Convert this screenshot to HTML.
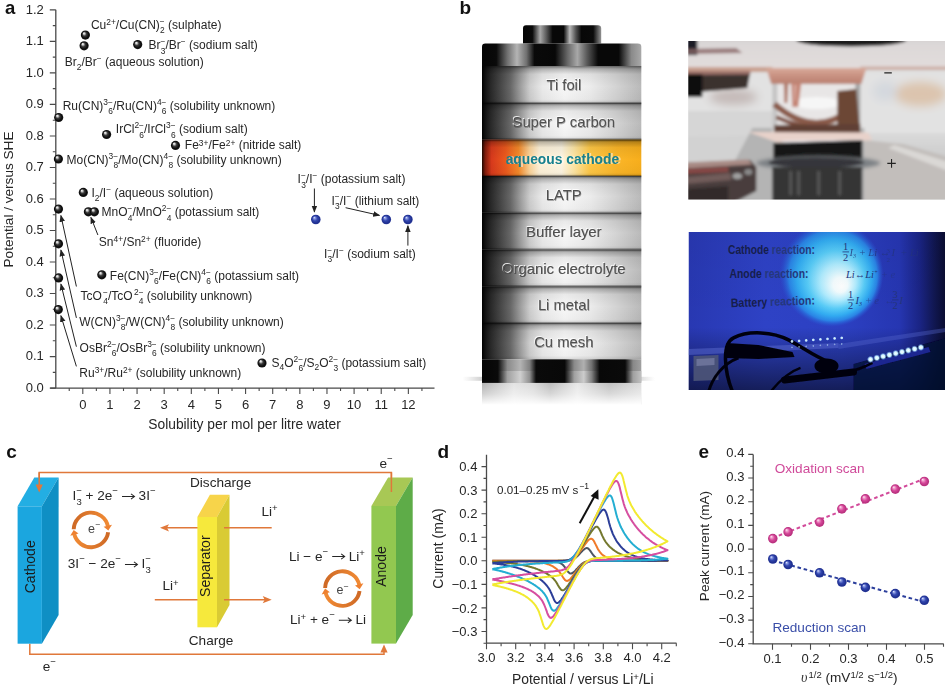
<!DOCTYPE html>
<html><head><meta charset="utf-8"><title>Figure</title>
<style>html,body{margin:0;padding:0;background:#fff;overflow:hidden;width:946px;height:688px;}svg{display:block;filter:blur(0.3px);}text{white-space:pre;}</style></head>
<body><svg width="946" height="688" viewBox="0 0 946 688" font-family='"Liberation Sans", sans-serif'><defs>
<clipPath id="cpP1"><rect x="688.3" y="41.1" width="256.7" height="158.4"/></clipPath>
<clipPath id="cpP2"><rect x="688.5" y="231.9" width="256.5" height="158.2"/></clipPath>
<filter id="fBl1" x="-10%" y="-10%" width="120%" height="120%"><feGaussianBlur stdDeviation="1.6"/></filter>
<filter id="fBl3" x="-30%" y="-30%" width="160%" height="160%"><feGaussianBlur stdDeviation="4"/></filter>
<filter id="fBl05"><feGaussianBlur stdDeviation="0.6"/></filter>
<linearGradient id="gP1bg" x1="0" y1="0" x2="0" y2="1">
 <stop offset="0" stop-color="#d4d2d2"/>
 <stop offset="0.05" stop-color="#d8d4d3"/>
 <stop offset="0.22" stop-color="#dcd4d2"/>
 <stop offset="0.3" stop-color="#d2c8c6"/>
 <stop offset="0.4" stop-color="#dadada"/>
 <stop offset="0.6" stop-color="#dcdcdc"/>
 <stop offset="0.68" stop-color="#c8c8c8"/>
 <stop offset="1" stop-color="#a4a4a4"/>
</linearGradient>
<linearGradient id="gPlate" x1="0" y1="0" x2="0" y2="1">
 <stop offset="0" stop-color="#d2d0d0"/>
 <stop offset="0.2" stop-color="#dcd8d8"/>
 <stop offset="1" stop-color="#e2dcdb"/>
</linearGradient>
<linearGradient id="gCu" x1="0" y1="0" x2="0" y2="1">
 <stop offset="0" stop-color="#d8aa9a"/>
 <stop offset="0.5" stop-color="#c89080"/>
 <stop offset="1" stop-color="#b88070"/>
</linearGradient>
<linearGradient id="gStageR" x1="0" y1="0" x2="0" y2="1">
 <stop offset="0" stop-color="#dadada"/>
 <stop offset="0.3" stop-color="#cecece"/>
 <stop offset="1" stop-color="#bcbcbc"/>
</linearGradient>
<radialGradient id="gP2tr" cx="257" cy="0" r="120" gradientUnits="objectBoundingBox">
 <stop offset="0" stop-color="#000" stop-opacity="0"/>
</radialGradient>
<linearGradient id="gStage" x1="0" y1="0" x2="1" y2="0">
 <stop offset="0" stop-color="#8a8a8a"/>
 <stop offset="0.4" stop-color="#a0a0a0"/>
 <stop offset="0.75" stop-color="#b4b4b4"/>
 <stop offset="1" stop-color="#c4c4c4"/>
</linearGradient>
<radialGradient id="gGlow" cx="50%" cy="50%" r="50%" fx="60%" fy="62%">
 <stop offset="0" stop-color="#ffffff"/>
 <stop offset="0.14" stop-color="#f4fdff"/>
 <stop offset="0.34" stop-color="#b0ecff"/>
 <stop offset="0.55" stop-color="#58ccf8"/>
 <stop offset="0.72" stop-color="#32acf2"/>
 <stop offset="0.85" stop-color="#2a84e6"/>
 <stop offset="0.93" stop-color="#2a62d8" stop-opacity="0.6"/>
 <stop offset="1" stop-color="#2a50d0" stop-opacity="0"/>
</radialGradient>
<linearGradient id="gP2bg" x1="0" y1="0" x2="1" y2="0">
 <stop offset="0" stop-color="#2838b2"/>
 <stop offset="0.3" stop-color="#2e42c6"/>
 <stop offset="0.6" stop-color="#2c40c2"/>
 <stop offset="0.82" stop-color="#2636b2"/>
 <stop offset="0.9" stop-color="#1a2484"/>
 <stop offset="0.96" stop-color="#10164e"/>
 <stop offset="1" stop-color="#0a0c30"/>
</linearGradient>
<linearGradient id="gP2v" x1="0" y1="0" x2="0" y2="1">
 <stop offset="0" stop-color="#000" stop-opacity="0.04"/>
 <stop offset="0.6" stop-color="#000" stop-opacity="0"/>
 <stop offset="0.75" stop-color="#000" stop-opacity="0.2"/>
 <stop offset="1" stop-color="#000" stop-opacity="0.55"/>
</linearGradient>
<radialGradient id="gLed" cx="50%" cy="50%" r="50%">
 <stop offset="0" stop-color="#ffffff"/>
 <stop offset="0.5" stop-color="#c8f0ff"/>
 <stop offset="1" stop-color="#6aa0ff" stop-opacity="0"/>
</radialGradient>
</defs>
<g clip-path="url(#cpP1)">
<rect x="688.3" y="41.1" width="257" height="159" fill="#dedede"/>
<g filter="url(#fBl1)">
<rect x="685.3" y="38.1" width="263" height="31" fill="url(#gPlate)"/>
<ellipse cx="851.3" cy="40.1" rx="55" ry="6.5" fill="#1e1e1e"/>
<path d="M685.3,38.1 L697.3,38.1 L697.3,55.1 L685.3,55.1 z" fill="#1a1e28" />
<path d="M685.3,49.1 L736.3,48.1 L742.3,53.1 L685.3,54.1 z" fill="#8a6666" opacity="0.8"/>
<path d="M685.3,67.1 L772.3,67.1 L772.3,72.6 L685.3,72.6 z" fill="#c9a090" />
<path d="M860.3,66.6 L948.3,66.6 L948.3,70.1 L860.3,70.1 z" fill="#cdb0a8" />
<rect x="685.3" y="72.1" width="263" height="66" fill="#e2e2e2"/>
<g filter="url(#fBl3)">
<ellipse cx="920.3" cy="94.1" rx="26" ry="12" fill="#dcc4ae"/>
<ellipse cx="885.3" cy="91.1" rx="12" ry="10" fill="#d4d8de"/>
<ellipse cx="733.3" cy="97.1" rx="24" ry="8" fill="#c4bab8"/>
</g>
<rect x="685.3" y="111.1" width="90" height="30" fill="#d6d6d6"/>
<path d="M860.3,133.1 L948.3,133.1 L948.3,203.1 L860.3,203.1 z" fill="url(#gStageR)" />
<path d="M864.3,140.1 L903.3,144.1 L948.3,157.1 L948.3,201.1 L864.3,201.1 z" fill="#c2bebb" />
<path d="M894.3,145.1 L948.3,162.1 L948.3,171.1 L888.3,148.1 z" fill="#e4e2e0" opacity="0.7"/>
<path d="M685.3,137.1 L778.3,135.1 L778.3,203.1 L685.3,203.1 z" fill="#d2d2d2" />
<path d="M728.3,173.1 L752.3,128.1 L864.3,128.1 L864.3,203.1 L728.3,203.1 z" fill="#b4b4b4" />
<path d="M685.3,72.1 L750.3,72.1 L747.3,88.1 L685.3,93.1 z" fill="#3a302e" />
<path d="M685.3,71.1 L750.3,71.1 L750.3,74.6 L685.3,75.1 z" fill="#9a7068" />
<path d="M685.3,74.1 L702.3,74.1 L702.3,97.1 L685.3,97.1 z" fill="#0c0c0c" />
<path d="M772.3,83.1 L860.3,83.1 L860.3,133.1 L772.3,133.1 z" fill="#e8e6e6" />
<path d="M772.3,83.1 L777.3,83.1 L777.3,131.1 L772.3,131.1 z" fill="#c4c4c4" />
<path d="M855.3,83.1 L860.3,83.1 L860.3,131.1 L855.3,131.1 z" fill="#a4a4a4" />
<ellipse cx="816.3" cy="103.1" rx="25" ry="6" fill="#f6f6f6"/>
<path d="M766.3,68.1 L866.3,68.1 L861.3,84.1 L771.3,84.1 z" fill="url(#gCu)" />
<path d="M791.3,83.1 L801.3,83.1 L798.3,107.1 L792.3,107.1 z" fill="#c48474" />
<path d="M794.3,85.1 L796.3,85.1 L795.3,101.1 L794.3,101.1 z" fill="#e8c8c0" opacity="0.7"/>
<path d="M783.8,83.1 L788.3,83.1 L787.3,103.1 L784.3,103.1 z" fill="#b07a6a" />
<path d="M774.3,104.1 Q813.3,138.1 848.3,111.1" fill="none" stroke="#8a5a48" stroke-width="6"/>
<path d="M776.3,117.1 Q813.3,134.1 851.3,123.1" fill="none" stroke="#7a4c3c" stroke-width="4"/>
<path d="M837.3,91.1 L856.3,89.1 L860.3,134.1 L837.3,136.1 z" fill="#6c4636" />
<path d="M774.3,125.1 L860.3,124.1 L860.3,137.1 L774.3,138.1 z" fill="#604034" />
<path d="M748.3,132.1 L868.3,132.6 L872.3,140.1 L813.3,145.1 L776.3,142.1 z" fill="#e8d2ca" />
<path d="M780.3,141.1 L864.3,139.6 L813.3,151.1 z" fill="#f2f2f8" />
<path d="M773.3,143.1 L862.3,140.1 L862.3,161.1 L773.3,161.1 z" fill="#151515" />
<ellipse cx="818.3" cy="163.1" rx="62" ry="7" fill="#7c8084" filter="url(#fBl1)"/>
<ellipse cx="816.3" cy="162.6" rx="48" ry="5" fill="#34363a"/>
<path d="M772.3,167.1 L862.3,167.1 L862.3,203.1 L772.3,203.1 z" fill="#363636" />
<path d="M789.3,171.1 L791.8,171.1 L791.8,195.1 L789.3,195.1 z" fill="#7c7c7c" opacity="0.55"/>
<path d="M797.3,171.1 L799.8,171.1 L799.8,195.1 L797.3,195.1 z" fill="#7c7c7c" opacity="0.55"/>
<path d="M817.3,171.1 L819.8,171.1 L819.8,195.1 L817.3,195.1 z" fill="#7c7c7c" opacity="0.55"/>
<path d="M838.3,171.1 L840.8,171.1 L840.8,195.1 L838.3,195.1 z" fill="#7c7c7c" opacity="0.55"/>
<path d="M685.3,163.1 L750.3,160.1 L756.3,167.1 L756.3,191.1 L733.3,203.1 L685.3,203.1 z" fill="#4a3e3c" />
<path d="M685.3,162.6 L748.3,159.6 L752.3,164.6 L685.3,168.6 z" fill="#a88a84" />
<path d="M685.3,169.1 L728.3,167.1 L728.3,172.1 L685.3,174.1 z" fill="#a04a48" opacity="0.7"/>
<path d="M685.3,177.1 L730.3,173.1 L731.3,180.1 L685.3,184.1 z" fill="#7a6462" opacity="0.8"/>
<path d="M685.3,189.1 L728.3,186.1 L728.3,201.1 L685.3,201.1 z" fill="#2c2424" opacity="0.8"/>
<ellipse cx="737.3" cy="176.1" rx="5" ry="3" fill="#a0a0a0"/>
<ellipse cx="748.3" cy="172.1" rx="4" ry="3" fill="#8a8a8a"/>
</g>
<path d="M884.3,72.9 H891.8" stroke="#222" stroke-width="1.3"/>
<path d="M887.3,163.4 H895.8 M891.55,159.1 V167.7" stroke="#222" stroke-width="1.1"/>
</g>
<g clip-path="url(#cpP2)">
<rect x="688.5" y="231.9" width="257" height="159" fill="url(#gP2bg)"/>
<ellipse cx="831.5" cy="273.9" rx="52" ry="53" fill="url(#gGlow)"/>
<rect x="688.5" y="231.9" width="257" height="159" fill="url(#gP2v)"/>
<g font-weight="bold" font-size="12.4">
<text x="728.0" y="253.9" fill="#161e4c" textLength="87" lengthAdjust="spacingAndGlyphs">Cathode <tspan fill="#25377c">reaction:</tspan></text>
<text x="729.5" y="278.4" fill="#161e4c" textLength="79" lengthAdjust="spacingAndGlyphs">Anode <tspan fill="#25377c">reaction:</tspan></text>
<text x="730.8" y="305.9" fill="#161e4c" textLength="84" lengthAdjust="spacingAndGlyphs" transform="rotate(-2 772.5 301.9)">Battery <tspan fill="#25377c">reaction:</tspan></text>
</g>
<g font-family="Liberation Serif" font-style="italic" fill="#24347a" font-size="10.5">
<text x="843.0" y="249.9" font-style="normal">1</text><path d="M842.5,251.9 H849.0" stroke="#24347a" stroke-width="0.8"/><text x="843.0" y="260.9" font-style="normal">2</text>
<text x="849.5" y="255.9" opacity="0.8">I<tspan font-size="6" dy="2">3</tspan><tspan dy="-2"> + Li ↔ </tspan></text>
<text x="886.5" y="252.9" font-style="normal" font-size="7" opacity="0.6">3</text><text x="886.5" y="261.9" font-style="normal" font-size="7" opacity="0.6">2</text>
<text x="891.5" y="255.9" opacity="0.7">I  + Li</text>
<text x="846.0" y="277.9">Li↔Li<tspan font-size="6" dy="-4">+</tspan><tspan dy="4" opacity="0.5"> + e</tspan></text>
<text x="848.0" y="297.9" font-style="normal">1</text><path d="M847.5,299.9 H854.0" stroke="#24347a" stroke-width="0.8"/><text x="848.0" y="308.9" font-style="normal">2</text>
<text x="855.5" y="303.9">I<tspan font-size="6" dy="2">3</tspan><tspan dy="-2" opacity="0.6"> + e  ↔ </tspan></text>
<text x="892.5" y="297.9" font-style="normal">3</text><path d="M892.0,299.9 H898.5" stroke="#24347a" stroke-width="0.8"/><text x="892.5" y="308.9" font-style="normal">2</text><text x="899.5" y="303.9">I</text>
</g>
<g filter="url(#fBl05)">
<path d="M688.5,348.9 L838.5,342.9 L838.5,347.9 L688.5,354.9 z" fill="#5a6ad0" opacity="0.5"/>
<path d="M838.5,343.9 L945.5,327.9 L945.5,331.9 L838.5,348.9 z" fill="#5a6ad0" opacity="0.35"/>
<path d="M853.5,363.9 L945.5,337.9 L945.5,391.9 L853.5,391.9 z" fill="#080a30" opacity="0.75"/>
<path d="M693.5,355.9 L718.5,354.9 L718.5,379.9 L693.5,380.9 z" fill="#4c5478" opacity="0.9"/>
<path d="M696.5,358.9 L714.5,357.9 L714.5,364.9 L696.5,365.9 z" fill="#7a82a8" opacity="0.7"/>
<path d="M864.5,363.9 L928.5,346.9 L930.5,351.9 L866.5,368.9 z" fill="#1a2890" />
<path d="M732.5,391.9 C724.5,371.9 721.5,343.9 733.5,337.9 C748.5,329.9 773.5,331.9 788.5,339.9 C803.5,347.9 813.5,355.9 828.5,361.9" fill="none" stroke="#04040c" stroke-width="3.5"/>
<path d="M726.5,342.9 L758.5,344.9 L792.5,351.9 L794.5,356.9 L758.5,358.9 L726.5,357.9 z" fill="#04040c" />
<path d="M784.5,379.9 L853.5,371.9" stroke="#04040c" stroke-width="7" stroke-linecap="round"/>
<ellipse cx="826.5" cy="365.9" rx="12" ry="7.5" fill="#04040c"/>
<path d="M848.5,371.9 C858.5,369.9 864.5,366.9 872.5,362.9" fill="none" stroke="#04040c" stroke-width="2.5"/>
<path d="M708.5,391.9 C712.5,377.9 722.5,363.9 738.5,357.9" fill="none" stroke="#04040c" stroke-width="3"/>
<path d="M770.5,391.9 C778.5,381.9 788.5,371.9 800.5,367.9" fill="none" stroke="#04040c" stroke-width="2.5"/>
</g>
<circle cx="870.5" cy="359.4" r="3.6" fill="url(#gLed)"/>
<circle cx="876.8" cy="357.9" r="3.6" fill="url(#gLed)"/>
<circle cx="883.1" cy="356.4" r="3.6" fill="url(#gLed)"/>
<circle cx="889.4" cy="354.9" r="3.6" fill="url(#gLed)"/>
<circle cx="895.7" cy="353.4" r="3.6" fill="url(#gLed)"/>
<circle cx="902.0" cy="351.9" r="3.6" fill="url(#gLed)"/>
<circle cx="908.3" cy="350.4" r="3.6" fill="url(#gLed)"/>
<circle cx="914.6" cy="348.9" r="3.6" fill="url(#gLed)"/>
<circle cx="920.9" cy="347.4" r="3.6" fill="url(#gLed)"/>
<circle cx="792.0" cy="341.4" r="1.9" fill="url(#gLed)" opacity="0.9"/>
<circle cx="792.0" cy="347.4" r="1.3" fill="url(#gLed)" opacity="0.45"/>
<circle cx="799.1" cy="340.9" r="1.9" fill="url(#gLed)" opacity="0.9"/>
<circle cx="799.1" cy="346.9" r="1.3" fill="url(#gLed)" opacity="0.45"/>
<circle cx="806.2" cy="340.4" r="1.9" fill="url(#gLed)" opacity="0.9"/>
<circle cx="806.2" cy="346.4" r="1.3" fill="url(#gLed)" opacity="0.45"/>
<circle cx="813.3" cy="339.9" r="1.9" fill="url(#gLed)" opacity="0.9"/>
<circle cx="813.3" cy="345.9" r="1.3" fill="url(#gLed)" opacity="0.45"/>
<circle cx="820.4" cy="339.4" r="1.9" fill="url(#gLed)" opacity="0.9"/>
<circle cx="820.4" cy="345.4" r="1.3" fill="url(#gLed)" opacity="0.45"/>
<circle cx="827.5" cy="338.9" r="1.9" fill="url(#gLed)" opacity="0.9"/>
<circle cx="827.5" cy="344.9" r="1.3" fill="url(#gLed)" opacity="0.45"/>
<circle cx="834.6" cy="338.4" r="1.9" fill="url(#gLed)" opacity="0.9"/>
<circle cx="834.6" cy="344.4" r="1.3" fill="url(#gLed)" opacity="0.45"/>
<circle cx="841.7" cy="337.9" r="1.9" fill="url(#gLed)" opacity="0.9"/>
<circle cx="841.7" cy="343.9" r="1.3" fill="url(#gLed)" opacity="0.45"/>
</g>
<defs>
<linearGradient id="gLay" x1="482" y1="0" x2="641" y2="0" gradientUnits="userSpaceOnUse">
 <stop offset="0" stop-color="#000"/>
 <stop offset="0.02" stop-color="#121212"/>
 <stop offset="0.05" stop-color="#262626"/>
 <stop offset="0.11" stop-color="#444"/>
 <stop offset="0.18" stop-color="#686868"/>
 <stop offset="0.24" stop-color="#9c9c9c"/>
 <stop offset="0.30" stop-color="#cdcdcd"/>
 <stop offset="0.38" stop-color="#eaeaea"/>
 <stop offset="0.52" stop-color="#f8f8f8"/>
 <stop offset="0.68" stop-color="#ececec"/>
 <stop offset="0.84" stop-color="#d4d4d4"/>
 <stop offset="1" stop-color="#bababa"/>
</linearGradient>
<linearGradient id="gOr" x1="482" y1="0" x2="641" y2="0" gradientUnits="userSpaceOnUse">
 <stop offset="0" stop-color="#200800"/>
 <stop offset="0.02" stop-color="#801c0c"/>
 <stop offset="0.06" stop-color="#d83a1c"/>
 <stop offset="0.15" stop-color="#ec5a1e"/>
 <stop offset="0.23" stop-color="#f48a2a"/>
 <stop offset="0.30" stop-color="#fcd49a"/>
 <stop offset="0.36" stop-color="#fff2d8"/>
 <stop offset="0.50" stop-color="#fff6e2"/>
 <stop offset="0.58" stop-color="#ffe6a4"/>
 <stop offset="0.68" stop-color="#ffc846"/>
 <stop offset="0.85" stop-color="#fbb628"/>
 <stop offset="1" stop-color="#f7ae1c"/>
</linearGradient>
<linearGradient id="gLayV" x1="0" y1="0" x2="0" y2="1">
 <stop offset="0" stop-color="#000" stop-opacity="0.55"/>
 <stop offset="0.08" stop-color="#000" stop-opacity="0.25"/>
 <stop offset="0.22" stop-color="#000" stop-opacity="0.06"/>
 <stop offset="0.55" stop-color="#000" stop-opacity="0"/>
 <stop offset="0.9" stop-color="#000" stop-opacity="0.03"/>
 <stop offset="1" stop-color="#000" stop-opacity="0.12"/>
</linearGradient>
<linearGradient id="gBand" x1="482" y1="0" x2="641" y2="0" gradientUnits="userSpaceOnUse">
 <stop offset="0" stop-color="#050505"/>
 <stop offset="0.09" stop-color="#0a0a0a"/>
 <stop offset="0.16" stop-color="#707070"/>
 <stop offset="0.22" stop-color="#b4b4b4"/>
 <stop offset="0.28" stop-color="#707070"/>
 <stop offset="0.33" stop-color="#0a0a0a"/>
 <stop offset="0.46" stop-color="#080808"/>
 <stop offset="0.54" stop-color="#6a6a6a"/>
 <stop offset="0.60" stop-color="#a8a8a8"/>
 <stop offset="0.66" stop-color="#5a5a5a"/>
 <stop offset="0.73" stop-color="#080808"/>
 <stop offset="0.86" stop-color="#080808"/>
 <stop offset="0.94" stop-color="#8a8a8a"/>
 <stop offset="1" stop-color="#a8a8a8"/>
</linearGradient>
<linearGradient id="gCap" x1="523" y1="0" x2="601" y2="0" gradientUnits="userSpaceOnUse">
 <stop offset="0" stop-color="#050505"/>
 <stop offset="0.12" stop-color="#0a0a0a"/>
 <stop offset="0.22" stop-color="#a8a8a8"/>
 <stop offset="0.30" stop-color="#5a5a5a"/>
 <stop offset="0.38" stop-color="#080808"/>
 <stop offset="0.52" stop-color="#080808"/>
 <stop offset="0.60" stop-color="#b8b8b8"/>
 <stop offset="0.68" stop-color="#505050"/>
 <stop offset="0.75" stop-color="#080808"/>
 <stop offset="0.90" stop-color="#0a0a0a"/>
 <stop offset="1" stop-color="#909090"/>
</linearGradient>
<linearGradient id="gBot" x1="482" y1="0" x2="641" y2="0" gradientUnits="userSpaceOnUse">
 <stop offset="0" stop-color="#050505"/>
 <stop offset="0.10" stop-color="#0a0a0a"/>
 <stop offset="0.16" stop-color="#8a8a8a"/>
 <stop offset="0.24" stop-color="#b4b4b4"/>
 <stop offset="0.30" stop-color="#808080"/>
 <stop offset="0.34" stop-color="#0a0a0a"/>
 <stop offset="0.52" stop-color="#080808"/>
 <stop offset="0.58" stop-color="#8a8a8a"/>
 <stop offset="0.64" stop-color="#b0b0b0"/>
 <stop offset="0.69" stop-color="#707070"/>
 <stop offset="0.74" stop-color="#080808"/>
 <stop offset="0.90" stop-color="#0a0a0a"/>
 <stop offset="0.95" stop-color="#888"/>
 <stop offset="1" stop-color="#a0a0a0"/>
</linearGradient>
<linearGradient id="gBot2" x1="482" y1="0" x2="641" y2="0" gradientUnits="userSpaceOnUse">
 <stop offset="0" stop-color="#050505"/>
 <stop offset="0.10" stop-color="#0a0a0a"/>
 <stop offset="0.16" stop-color="#a0a0a0"/>
 <stop offset="0.24" stop-color="#d0d0d0"/>
 <stop offset="0.30" stop-color="#909090"/>
 <stop offset="0.34" stop-color="#0a0a0a"/>
 <stop offset="0.52" stop-color="#080808"/>
 <stop offset="0.58" stop-color="#a0a0a0"/>
 <stop offset="0.64" stop-color="#cccccc"/>
 <stop offset="0.69" stop-color="#808080"/>
 <stop offset="0.74" stop-color="#080808"/>
 <stop offset="0.90" stop-color="#0a0a0a"/>
 <stop offset="0.95" stop-color="#a0a0a0"/>
 <stop offset="1" stop-color="#c0c0c0"/>
</linearGradient>
<linearGradient id="gRefl" x1="0" y1="0" x2="0" y2="1">
 <stop offset="0" stop-color="#fff" stop-opacity="0.1"/>
 <stop offset="0.5" stop-color="#fff" stop-opacity="0.45"/>
 <stop offset="1" stop-color="#fff" stop-opacity="1"/>
</linearGradient>
<linearGradient id="gReflH" x1="482" y1="0" x2="641" y2="0" gradientUnits="userSpaceOnUse">
 <stop offset="0" stop-color="#a8a8a8"/>
 <stop offset="0.1" stop-color="#c4c4c4"/>
 <stop offset="0.2" stop-color="#e0e0e0"/>
 <stop offset="0.32" stop-color="#d4d4d4"/>
 <stop offset="0.43" stop-color="#b4b4b4"/>
 <stop offset="0.6" stop-color="#e4e4e4"/>
 <stop offset="0.8" stop-color="#b8b8b8"/>
 <stop offset="1" stop-color="#d8d8d8"/>
</linearGradient>
<linearGradient id="gShad" x1="0" y1="0" x2="1" y2="0">
 <stop offset="0" stop-color="#bbb" stop-opacity="0"/>
 <stop offset="0.15" stop-color="#aaa" stop-opacity="0.9"/>
 <stop offset="0.85" stop-color="#aaa" stop-opacity="0.9"/>
 <stop offset="1" stop-color="#bbb" stop-opacity="0"/>
</linearGradient>
<filter id="fEmb" x="-5%" y="-20%" width="110%" height="140%">
 <feGaussianBlur stdDeviation="0.35"/>
</filter>
</defs>
<text x="459.50" y="14.20" font-size="19" fill="#111" text-anchor="start" font-weight="bold" >b</text>
<rect x="462.8" y="376.8" width="192" height="4" fill="url(#gShad)" filter="url(#fEmb)"/>
<rect x="482.0" y="382.5" width="159.29999999999995" height="22" fill="url(#gReflH)"/>
<rect x="482.0" y="382.5" width="159.29999999999995" height="22.5" fill="url(#gRefl)"/>
<path d="M523,43.6 V28.4 Q523,25.3 526,25.3 H598 Q601.2,25.3 601.2,28.4 V43.6 z" fill="url(#gCap)"/>
<path d="M482.0,66 V46.8 Q482.0,43.5 485.3,43.5 H638.0 Q641.3,43.5 641.3,46.8 V66 z" fill="url(#gBand)"/>
<rect x="482.0" y="66.0" width="159.29999999999995" height="37.0" fill="url(#gLay)"/>
<rect x="482.0" y="66.0" width="159.29999999999995" height="37.0" fill="url(#gLayV)"/>
<rect x="482.0" y="103.0" width="159.29999999999995" height="36.5" fill="url(#gLay)"/>
<rect x="482.0" y="103.0" width="159.29999999999995" height="36.5" fill="url(#gLayV)"/>
<rect x="482.0" y="139.5" width="159.29999999999995" height="36.5" fill="url(#gOr)"/>
<rect x="482.0" y="139.5" width="159.29999999999995" height="36.5" fill="url(#gLayV)"/>
<rect x="482.0" y="176.0" width="159.29999999999995" height="36.80000000000001" fill="url(#gLay)"/>
<rect x="482.0" y="176.0" width="159.29999999999995" height="36.80000000000001" fill="url(#gLayV)"/>
<rect x="482.0" y="212.8" width="159.29999999999995" height="36.69999999999999" fill="url(#gLay)"/>
<rect x="482.0" y="212.8" width="159.29999999999995" height="36.69999999999999" fill="url(#gLayV)"/>
<rect x="482.0" y="249.5" width="159.29999999999995" height="36.80000000000001" fill="url(#gLay)"/>
<rect x="482.0" y="249.5" width="159.29999999999995" height="36.80000000000001" fill="url(#gLayV)"/>
<rect x="482.0" y="286.3" width="159.29999999999995" height="36.69999999999999" fill="url(#gLay)"/>
<rect x="482.0" y="286.3" width="159.29999999999995" height="36.69999999999999" fill="url(#gLayV)"/>
<rect x="482.0" y="323.0" width="159.29999999999995" height="36.30000000000001" fill="url(#gLay)"/>
<rect x="482.0" y="323.0" width="159.29999999999995" height="36.30000000000001" fill="url(#gLayV)"/>
<rect x="482.0" y="101.9" width="159.29999999999995" height="2.2" fill="#000" opacity="0.33" filter="url(#fEmb)"/>
<rect x="482.0" y="138.4" width="159.29999999999995" height="2.2" fill="#000" opacity="0.33" filter="url(#fEmb)"/>
<rect x="482.0" y="174.9" width="159.29999999999995" height="2.2" fill="#000" opacity="0.33" filter="url(#fEmb)"/>
<rect x="482.0" y="211.70000000000002" width="159.29999999999995" height="2.2" fill="#000" opacity="0.33" filter="url(#fEmb)"/>
<rect x="482.0" y="248.4" width="159.29999999999995" height="2.2" fill="#000" opacity="0.33" filter="url(#fEmb)"/>
<rect x="482.0" y="285.2" width="159.29999999999995" height="2.2" fill="#000" opacity="0.33" filter="url(#fEmb)"/>
<rect x="482.0" y="321.9" width="159.29999999999995" height="2.2" fill="#000" opacity="0.33" filter="url(#fEmb)"/>
<rect x="482.0" y="359.3" width="159.29999999999995" height="23.4" fill="url(#gBot)"/>
<rect x="482.0" y="371" width="159.29999999999995" height="11.7" fill="url(#gBot2)"/>
<text x="563.0999999999999" y="89.3" font-size="14.8" text-anchor="middle" fill="#fff" opacity="0.85">Ti foil</text>
<text x="564.3" y="90.6" font-size="14.8" text-anchor="middle" fill="#222" opacity="0.35">Ti foil</text>
<text x="563.8" y="90.0" font-size="14.8" text-anchor="middle" fill="#505050">Ti foil</text>
<text x="563.0999999999999" y="126.3" font-size="14.8" text-anchor="middle" fill="#fff" opacity="0.85">Super P carbon</text>
<text x="564.3" y="127.6" font-size="14.8" text-anchor="middle" fill="#222" opacity="0.35">Super P carbon</text>
<text x="563.8" y="127.0" font-size="14.8" text-anchor="middle" fill="#505050">Super P carbon</text>
<text x="564.5" y="164.3" font-size="13.8" font-weight="bold" text-anchor="middle" fill="#fff" opacity="0.5">aqueous cathode</text>
<text x="562.4" y="163.5" font-size="13.8" font-weight="bold" text-anchor="middle" fill="#17808f">aqueous cathode</text>
<text x="563.0999999999999" y="199.3" font-size="14.8" text-anchor="middle" fill="#fff" opacity="0.85">LATP</text>
<text x="564.3" y="200.6" font-size="14.8" text-anchor="middle" fill="#222" opacity="0.35">LATP</text>
<text x="563.8" y="200.0" font-size="14.8" text-anchor="middle" fill="#505050">LATP</text>
<text x="563.0999999999999" y="236.10000000000002" font-size="14.8" text-anchor="middle" fill="#fff" opacity="0.85">Buffer layer</text>
<text x="564.3" y="237.4" font-size="14.8" text-anchor="middle" fill="#222" opacity="0.35">Buffer layer</text>
<text x="563.8" y="236.8" font-size="14.8" text-anchor="middle" fill="#505050">Buffer layer</text>
<text x="563.0999999999999" y="272.8" font-size="14.8" text-anchor="middle" fill="#fff" opacity="0.85">Organic electrolyte</text>
<text x="564.3" y="274.1" font-size="14.8" text-anchor="middle" fill="#222" opacity="0.35">Organic electrolyte</text>
<text x="563.8" y="273.5" font-size="14.8" text-anchor="middle" fill="#505050">Organic electrolyte</text>
<text x="563.0999999999999" y="309.6" font-size="14.8" text-anchor="middle" fill="#fff" opacity="0.85">Li metal</text>
<text x="564.3" y="310.90000000000003" font-size="14.8" text-anchor="middle" fill="#222" opacity="0.35">Li metal</text>
<text x="563.8" y="310.3" font-size="14.8" text-anchor="middle" fill="#505050">Li metal</text>
<text x="563.0999999999999" y="346.3" font-size="14.8" text-anchor="middle" fill="#fff" opacity="0.85">Cu mesh</text>
<text x="564.3" y="347.6" font-size="14.8" text-anchor="middle" fill="#222" opacity="0.35">Cu mesh</text>
<text x="563.8" y="347.0" font-size="14.8" text-anchor="middle" fill="#505050">Cu mesh</text>
<text x="6.20" y="458.30" font-size="19" fill="#111" text-anchor="start" font-weight="bold" >c</text>
<path d="M391.4,492 V472.4 H39.2 V486" fill="none" stroke="#e0783a" stroke-width="1.5"/>
<path d="M35.6,484.5 L42.8,484.5 L39.2,492.5 z" fill="#e0783a"/>
<path d="M29.8,643.7 V654.2 H384 V651" fill="none" stroke="#e0783a" stroke-width="1.5"/>
<path d="M380.4,652.5 L387.6,652.5 L384,644.5 z" fill="#e0783a"/>
<path d="M271.7,527.8 H166" stroke="#e0783a" stroke-width="1.5"/>
<path d="M160,527.8 L169,524.2 L167,527.8 L169,531.4 z" fill="#e0783a"/>
<path d="M154.8,599.7 H265.5" stroke="#e0783a" stroke-width="1.5"/>
<path d="M271.7,599.7 L262.7,596.1 L264.7,599.7 L262.7,603.3 z" fill="#e0783a"/>
<path d="M17.6,506.3 L34.3,477.5 L58.599999999999994,477.5 L41.9,506.3 z" fill="#23aee3"/>
<path d="M41.9,506.3 L58.599999999999994,477.5 L58.599999999999994,614.9000000000001 L41.9,643.7 z" fill="#0f8fc4"/>
<rect x="17.6" y="506.3" width="24.299999999999997" height="137.40000000000003" fill="#1ba6df"/>
<path d="M197.4,517.0 L209.9,494.8 L229.5,494.8 L217.0,517.0 z" fill="#f7d44a"/>
<path d="M217.0,517.0 L229.5,494.8 L229.5,605.0999999999999 L217.0,627.3 z" fill="#d9cb34"/>
<rect x="197.4" y="517.0" width="19.599999999999994" height="110.29999999999995" fill="#f6e93c"/>
<path d="M371.4,506.0 L388.09999999999997,477.5 L412.7,477.5 L396.0,506.0 z" fill="#a8c855"/>
<path d="M396.0,506.0 L412.7,477.5 L412.7,615.1 L396.0,643.6 z" fill="#5eac48"/>
<rect x="371.4" y="506.0" width="24.600000000000023" height="137.60000000000002" fill="#92c850"/>
<path d="M224,527.8 H229.5 M224,599.7 H229.5" stroke="#e0783a" stroke-width="1.5"/>
<path d="M391.4,472.4 V492" stroke="#e0783a" stroke-width="1.5"/>
<path d="M39.2,472.4 V486" stroke="#e0783a" stroke-width="1.5"/>
<path d="M35.6,484.5 L42.8,484.5 L39.2,492.5 z" fill="#e0783a"/>
<text x="35.00" y="566.80" font-size="14" fill="#1a1a1a" text-anchor="middle" transform="rotate(-90 35.0 566.8)">Cathode</text>
<text x="210.40" y="566.20" font-size="14" fill="#1a1a1a" text-anchor="middle" transform="rotate(-90 210.4 566.2)">Separator</text>
<text x="385.80" y="566.50" font-size="14" fill="#1a1a1a" text-anchor="middle" transform="rotate(-90 385.8 566.5)">Anode</text>
<text x="190.00" y="487.10" font-size="13.6" fill="#262626" text-anchor="start" >Discharge</text>
<text x="188.80" y="645.10" font-size="13.6" fill="#262626" text-anchor="start" >Charge</text>
<g fill="#262626" ><text x="261.40" y="515.50" font-size="13.6">Li</text><text x="271.99" y="511.15" font-size="9.52">+</text></g>
<g fill="#262626" ><text x="162.50" y="590.30" font-size="13.6">Li</text><text x="173.09" y="585.95" font-size="9.52">+</text></g>
<g fill="#262626" ><text x="379.40" y="467.60" font-size="13.6">e</text><text x="386.96" y="461.62" font-size="9.52">−</text></g>
<g fill="#262626" ><text x="42.80" y="670.70" font-size="13.6">e</text><text x="50.36" y="664.72" font-size="9.52">−</text></g>
<g fill="#262626" ><text x="72.40" y="500.40" font-size="13.6">I</text><text x="76.18" y="494.42" font-size="9.52">−</text><text x="76.44" y="505.30" font-size="9.52">3</text><text x="81.74" y="500.40" font-size="13.6"> + 2e</text><text x="112.36" y="494.42" font-size="9.52">−</text><path d="M122.00,496.46 H134.52 M130.98,493.80 L134.52,496.46 L130.98,499.11" fill="none" stroke="#262626" stroke-width="1.02"/><text x="138.60" y="500.40" font-size="13.6">3I</text><text x="149.94" y="494.42" font-size="9.52">−</text></g>
<g fill="#262626" ><text x="67.80" y="568.40" font-size="13.6">3I</text><text x="79.14" y="562.42" font-size="9.52">−</text><text x="84.70" y="568.40" font-size="13.6"> − 2e</text><text x="115.33" y="562.42" font-size="9.52">−</text><path d="M124.97,564.46 H137.48 M133.94,561.80 L137.48,564.46 L133.94,567.11" fill="none" stroke="#262626" stroke-width="1.02"/><text x="141.56" y="568.40" font-size="13.6">I</text><text x="145.34" y="562.42" font-size="9.52">−</text><text x="145.60" y="573.30" font-size="9.52">3</text></g>
<g fill="#262626" ><text x="288.90" y="560.50" font-size="13.6">Li − e</text><text x="322.55" y="554.52" font-size="9.52">−</text><path d="M332.19,556.56 H344.70 M341.16,553.90 L344.70,556.56 L341.16,559.21" fill="none" stroke="#262626" stroke-width="1.02"/><text x="348.78" y="560.50" font-size="13.6">Li</text><text x="359.36" y="556.15" font-size="9.52">+</text></g>
<g fill="#262626" ><text x="290.00" y="624.20" font-size="13.6">Li</text><text x="300.59" y="619.85" font-size="9.52">+</text><text x="306.14" y="624.20" font-size="13.6"> + e</text><text x="329.21" y="618.22" font-size="9.52">−</text><path d="M338.85,620.26 H351.36 M347.82,617.60 L351.36,620.26 L347.82,622.91" fill="none" stroke="#262626" stroke-width="1.02"/><text x="355.44" y="624.20" font-size="13.6">Li</text></g>
<path d="M73.71,529.30 A17.3,17.3 0 0 1 107.92,526.30" fill="none" stroke="url(#gArcA)" stroke-width="3.9"/><path d="M111.96,524.67 L103.61,526.76 L108.29,530.50 z" fill="#ee8030"/>
<path d="M108.13,532.31 A17.3,17.3 0 0 1 74.21,534.09" fill="none" stroke="url(#gArcB)" stroke-width="3.9"/><path d="M70.24,535.85 L78.50,533.48 L73.70,529.90 z" fill="#ee8030"/>
<path d="M325.11,588.00 A17.3,17.3 0 0 1 359.32,585.00" fill="none" stroke="url(#gArcA)" stroke-width="3.9"/><path d="M363.36,583.37 L355.01,585.46 L359.69,589.20 z" fill="#ee8030"/>
<path d="M359.53,591.01 A17.3,17.3 0 0 1 325.61,592.79" fill="none" stroke="url(#gArcB)" stroke-width="3.9"/><path d="M321.64,594.55 L329.90,592.18 L325.10,588.60 z" fill="#ee8030"/>
<g fill="#444" ><text x="88.00" y="532.80" font-size="12.5">e</text><text x="94.95" y="527.30" font-size="8.75">−</text></g>
<g fill="#444" ><text x="336.40" y="594.20" font-size="12.5">e</text><text x="343.35" y="588.70" font-size="8.75">−</text></g>

<defs>
 <radialGradient id="gBlack" cx="50%" cy="50%" r="50%" fx="32%" fy="28%">
  <stop offset="0" stop-color="#ffffff"/>
  <stop offset="0.18" stop-color="#d0d0d0"/>
  <stop offset="0.45" stop-color="#3a3a3a"/>
  <stop offset="0.8" stop-color="#0a0a0a"/>
  <stop offset="1" stop-color="#1a1a1a"/>
 </radialGradient>
 <radialGradient id="gBlue" cx="50%" cy="50%" r="50%" fx="32%" fy="28%">
  <stop offset="0" stop-color="#e8ecff"/>
  <stop offset="0.2" stop-color="#8a9ae0"/>
  <stop offset="0.5" stop-color="#3448b0"/>
  <stop offset="0.85" stop-color="#1f2f90"/>
  <stop offset="1" stop-color="#2a3a98"/>
 </radialGradient>
 <radialGradient id="gPink" cx="50%" cy="50%" r="50%" fx="32%" fy="28%">
  <stop offset="0" stop-color="#fff0f8"/>
  <stop offset="0.22" stop-color="#f0a0cc"/>
  <stop offset="0.55" stop-color="#d6489a"/>
  <stop offset="0.9" stop-color="#b8307e"/>
  <stop offset="1" stop-color="#c04088"/>
 </radialGradient>
 <linearGradient id="gArcA" x1="0" y1="0" x2="1" y2="0"><stop offset="0" stop-color="#cf6a26"/><stop offset="1" stop-color="#f08a34"/></linearGradient>
 <linearGradient id="gArcB" x1="1" y1="0" x2="0" y2="0"><stop offset="0" stop-color="#cf6a26"/><stop offset="1" stop-color="#f08a34"/></linearGradient>
 <marker id="ahB" viewBox="0 0 10 10" refX="9" refY="5" markerWidth="7" markerHeight="7" markerUnits="userSpaceOnUse" orient="auto">
  <path d="M0,1 L10,5 L0,9 z" fill="#222"/>
 </marker>
</defs>

<text x="5.00" y="13.90" font-size="18.5" fill="#111" text-anchor="start" font-weight="bold" >a</text>
<path d="M55.8,9.86000000000007 V388.1 M50.2,388.1 H434.5" stroke="#4a4a4a" stroke-width="1.3" fill="none"/>
<path d="M49.8,388.10 H55.8 M52.8,372.34 H55.8 M49.8,356.58 H55.8 M52.8,340.82 H55.8 M49.8,325.06 H55.8 M52.8,309.30 H55.8 M49.8,293.54 H55.8 M52.8,277.78 H55.8 M49.8,262.02 H55.8 M52.8,246.26 H55.8 M49.8,230.50 H55.8 M52.8,214.74 H55.8 M49.8,198.98 H55.8 M52.8,183.22 H55.8 M49.8,167.46 H55.8 M52.8,151.70 H55.8 M49.8,135.94 H55.8 M52.8,120.18 H55.8 M49.8,104.42 H55.8 M52.8,88.66 H55.8 M49.8,72.90 H55.8 M52.8,57.14 H55.8 M49.8,41.38 H55.8 M52.8,25.62 H55.8 M49.8,9.86 H55.8 M82.80,388.1 V394.1 M109.93,388.1 V394.1 M137.06,388.1 V394.1 M164.19,388.1 V394.1 M191.32,388.1 V394.1 M218.45,388.1 V394.1 M245.58,388.1 V394.1 M272.71,388.1 V394.1 M299.84,388.1 V394.1 M326.97,388.1 V394.1 M354.10,388.1 V394.1 M381.23,388.1 V394.1 M408.36,388.1 V394.1 M69.23,388.1 V391.1 M96.36,388.1 V391.1 M123.50,388.1 V391.1 M150.62,388.1 V391.1 M177.75,388.1 V391.1 M204.88,388.1 V391.1 M232.01,388.1 V391.1 M259.14,388.1 V391.1 M286.27,388.1 V391.1 M313.40,388.1 V391.1 M340.54,388.1 V391.1 M367.67,388.1 V391.1 M394.80,388.1 V391.1 M421.93,388.1 V391.1" stroke="#4a4a4a" stroke-width="1.1" fill="none"/>
<text x="43.80" y="391.90" font-size="13" fill="#262626" text-anchor="end" >0.0</text>
<text x="43.80" y="360.38" font-size="13" fill="#262626" text-anchor="end" >0.1</text>
<text x="43.80" y="328.86" font-size="13" fill="#262626" text-anchor="end" >0.2</text>
<text x="43.80" y="297.34" font-size="13" fill="#262626" text-anchor="end" >0.3</text>
<text x="43.80" y="265.82" font-size="13" fill="#262626" text-anchor="end" >0.4</text>
<text x="43.80" y="234.30" font-size="13" fill="#262626" text-anchor="end" >0.5</text>
<text x="43.80" y="202.78" font-size="13" fill="#262626" text-anchor="end" >0.6</text>
<text x="43.80" y="171.26" font-size="13" fill="#262626" text-anchor="end" >0.7</text>
<text x="43.80" y="139.74" font-size="13" fill="#262626" text-anchor="end" >0.8</text>
<text x="43.80" y="108.22" font-size="13" fill="#262626" text-anchor="end" >0.9</text>
<text x="43.80" y="76.70" font-size="13" fill="#262626" text-anchor="end" >1.0</text>
<text x="43.80" y="45.18" font-size="13" fill="#262626" text-anchor="end" >1.1</text>
<text x="43.80" y="13.66" font-size="13" fill="#262626" text-anchor="end" >1.2</text>
<text x="82.80" y="409.00" font-size="13" fill="#262626" text-anchor="middle" >0</text>
<text x="109.93" y="409.00" font-size="13" fill="#262626" text-anchor="middle" >1</text>
<text x="137.06" y="409.00" font-size="13" fill="#262626" text-anchor="middle" >2</text>
<text x="164.19" y="409.00" font-size="13" fill="#262626" text-anchor="middle" >3</text>
<text x="191.32" y="409.00" font-size="13" fill="#262626" text-anchor="middle" >4</text>
<text x="218.45" y="409.00" font-size="13" fill="#262626" text-anchor="middle" >5</text>
<text x="245.58" y="409.00" font-size="13" fill="#262626" text-anchor="middle" >6</text>
<text x="272.71" y="409.00" font-size="13" fill="#262626" text-anchor="middle" >7</text>
<text x="299.84" y="409.00" font-size="13" fill="#262626" text-anchor="middle" >8</text>
<text x="326.97" y="409.00" font-size="13" fill="#262626" text-anchor="middle" >9</text>
<text x="354.10" y="409.00" font-size="13" fill="#262626" text-anchor="middle" >10</text>
<text x="381.23" y="409.00" font-size="13" fill="#262626" text-anchor="middle" >11</text>
<text x="408.36" y="409.00" font-size="13" fill="#262626" text-anchor="middle" >12</text>
<text x="244.50" y="429.00" font-size="13.8" fill="#262626" text-anchor="middle" >Solubility per mol per litre water</text>
<text x="12.50" y="199.50" font-size="13.6" fill="#262626" text-anchor="middle" transform="rotate(-90 12.5 199.5)">Potential / versus SHE</text>
<circle cx="85.4" cy="35.1" r="4.6" fill="url(#gBlack)"/>
<circle cx="84.1" cy="45.8" r="4.6" fill="url(#gBlack)"/>
<circle cx="137.7" cy="44.6" r="4.6" fill="url(#gBlack)"/>
<circle cx="58.7" cy="117.5" r="4.6" fill="url(#gBlack)"/>
<circle cx="106.6" cy="134.5" r="4.6" fill="url(#gBlack)"/>
<circle cx="175.5" cy="145.4" r="4.6" fill="url(#gBlack)"/>
<circle cx="58.4" cy="159.0" r="4.6" fill="url(#gBlack)"/>
<circle cx="83.3" cy="192.4" r="4.6" fill="url(#gBlack)"/>
<circle cx="58.5" cy="209.1" r="4.6" fill="url(#gBlack)"/>
<circle cx="88.4" cy="211.8" r="4.6" fill="url(#gBlack)"/>
<circle cx="94.4" cy="211.8" r="4.6" fill="url(#gBlack)"/>
<circle cx="58.5" cy="243.8" r="4.6" fill="url(#gBlack)"/>
<circle cx="101.8" cy="274.8" r="4.6" fill="url(#gBlack)"/>
<circle cx="58.6" cy="277.9" r="4.6" fill="url(#gBlack)"/>
<circle cx="58.3" cy="309.6" r="4.6" fill="url(#gBlack)"/>
<circle cx="262.0" cy="363.0" r="4.6" fill="url(#gBlack)"/>
<circle cx="315.8" cy="219.5" r="4.8" fill="url(#gBlue)"/>
<circle cx="386.3" cy="219.5" r="4.8" fill="url(#gBlue)"/>
<circle cx="407.9" cy="219.5" r="4.8" fill="url(#gBlue)"/>
<line x1="76.4" y1="286.5" x2="60.9" y2="215.5" stroke="#222" stroke-width="1" marker-end="url(#ahB)"/>
<line x1="76.4" y1="317.9" x2="60.9" y2="250.0" stroke="#222" stroke-width="1" marker-end="url(#ahB)"/>
<line x1="76.4" y1="346.7" x2="60.9" y2="284.0" stroke="#222" stroke-width="1" marker-end="url(#ahB)"/>
<line x1="76.4" y1="366.4" x2="60.9" y2="315.6" stroke="#222" stroke-width="1" marker-end="url(#ahB)"/>
<line x1="97.9" y1="235.0" x2="90.9" y2="217.3" stroke="#222" stroke-width="1" marker-end="url(#ahB)"/>
<line x1="314.4" y1="188.5" x2="314.4" y2="212.0" stroke="#222" stroke-width="1" marker-end="url(#ahB)"/>
<line x1="345.6" y1="207.7" x2="379.5" y2="215.4" stroke="#222" stroke-width="1" marker-end="url(#ahB)"/>
<line x1="407.9" y1="245.6" x2="407.9" y2="225.8" stroke="#222" stroke-width="1" marker-end="url(#ahB)"/>
<g transform="translate(0,1.1)">
<g fill="#262626" ><text x="90.90" y="28.00" font-size="12">Cu</text><text x="106.24" y="24.16" font-size="8.40">2+</text><text x="115.82" y="28.00" font-size="12">/Cu(CN)</text><text x="159.82" y="22.72" font-size="8.40">−</text><text x="160.05" y="32.32" font-size="8.40">2</text><text x="164.72" y="28.00" font-size="12"> (sulphate)</text></g>
<g fill="#262626" ><text x="148.60" y="48.10" font-size="12">Br</text><text x="160.60" y="42.82" font-size="8.40">−</text><text x="160.83" y="52.42" font-size="8.40">3</text><text x="165.51" y="48.10" font-size="12">/Br</text><text x="180.84" y="42.82" font-size="8.40">−</text><text x="185.74" y="48.10" font-size="12"> (sodium salt)</text></g>
<g fill="#262626" ><text x="64.80" y="65.20" font-size="12">Br</text><text x="76.80" y="68.80" font-size="8.40">2</text><text x="81.47" y="65.20" font-size="12">/Br</text><text x="96.81" y="59.92" font-size="8.40">−</text><text x="101.71" y="65.20" font-size="12"> (aqueous solution)</text></g>
<g fill="#262626" ><text x="62.70" y="108.80" font-size="12">Ru(CN)</text><text x="103.36" y="103.52" font-size="8.40">3−</text><text x="108.27" y="113.12" font-size="8.40">6</text><text x="112.94" y="108.80" font-size="12">/Ru(CN)</text><text x="156.94" y="103.52" font-size="8.40">4−</text><text x="161.84" y="113.12" font-size="8.40">6</text><text x="166.52" y="108.80" font-size="12"> (solubility unknown)</text></g>
<g fill="#262626" ><text x="115.80" y="132.20" font-size="12">IrCl</text><text x="134.46" y="126.92" font-size="8.40">2−</text><text x="139.37" y="136.52" font-size="8.40">6</text><text x="144.04" y="132.20" font-size="12">/IrCl</text><text x="166.04" y="126.92" font-size="8.40">3−</text><text x="170.94" y="136.52" font-size="8.40">6</text><text x="175.61" y="132.20" font-size="12"> (sodium salt)</text></g>
<g fill="#262626" ><text x="184.80" y="148.40" font-size="12">Fe</text><text x="198.80" y="144.56" font-size="8.40">3+</text><text x="208.38" y="148.40" font-size="12">/Fe</text><text x="225.72" y="144.56" font-size="8.40">2+</text><text x="235.30" y="148.40" font-size="12"> (nitride salt)</text></g>
<g fill="#262626" ><text x="66.60" y="162.70" font-size="12">Mo(CN)</text><text x="108.59" y="157.42" font-size="8.40">3−</text><text x="113.50" y="167.02" font-size="8.40">8</text><text x="118.17" y="162.70" font-size="12">/Mo(CN)</text><text x="163.50" y="157.42" font-size="8.40">4−</text><text x="168.40" y="167.02" font-size="8.40">8</text><text x="173.08" y="162.70" font-size="12"> (solubility unknown)</text></g>
<g fill="#262626" ><text x="91.50" y="196.40" font-size="12">I</text><text x="94.83" y="200.00" font-size="8.40">2</text><text x="99.51" y="196.40" font-size="12">/I</text><text x="106.17" y="191.12" font-size="8.40">−</text><text x="111.08" y="196.40" font-size="12"> (aqueous solution)</text></g>
<g fill="#262626" ><text x="101.50" y="215.40" font-size="12">MnO</text><text x="127.50" y="210.12" font-size="8.40">−</text><text x="127.74" y="219.72" font-size="8.40">4</text><text x="132.41" y="215.40" font-size="12">/MnO</text><text x="161.75" y="210.12" font-size="8.40">2−</text><text x="166.65" y="219.72" font-size="8.40">4</text><text x="171.32" y="215.40" font-size="12"> (potassium salt)</text></g>
<g fill="#262626" ><text x="98.80" y="244.80" font-size="12">Sn</text><text x="113.48" y="240.96" font-size="8.40">4+</text><text x="123.05" y="244.80" font-size="12">/Sn</text><text x="141.07" y="240.96" font-size="8.40">2+</text><text x="150.64" y="244.80" font-size="12"> (fluoride)</text></g>
<g fill="#262626" ><text x="109.80" y="278.80" font-size="12">Fe(CN)</text><text x="149.13" y="273.52" font-size="8.40">3−</text><text x="154.03" y="283.12" font-size="8.40">6</text><text x="158.71" y="278.80" font-size="12">/Fe(CN)</text><text x="201.37" y="273.52" font-size="8.40">4−</text><text x="206.27" y="283.12" font-size="8.40">6</text><text x="210.94" y="278.80" font-size="12"> (potassium salt)</text></g>
<g fill="#262626" ><text x="80.40" y="299.00" font-size="12">TcO</text><text x="103.06" y="293.72" font-size="8.40">−</text><text x="103.30" y="303.32" font-size="8.40">4</text><text x="107.97" y="299.00" font-size="12">/TcO</text><text x="133.97" y="293.72" font-size="8.40">2−</text><text x="138.87" y="303.32" font-size="8.40">4</text><text x="143.54" y="299.00" font-size="12"> (solubility unknown)</text></g>
<g fill="#262626" ><text x="79.30" y="324.80" font-size="12">W(CN)</text><text x="115.95" y="319.52" font-size="8.40">3−</text><text x="120.86" y="329.12" font-size="8.40">8</text><text x="125.53" y="324.80" font-size="12">/W(CN)</text><text x="165.51" y="319.52" font-size="8.40">4−</text><text x="170.42" y="329.12" font-size="8.40">8</text><text x="175.09" y="324.80" font-size="12"> (solubility unknown)</text></g>
<g fill="#262626" ><text x="79.60" y="350.80" font-size="12">OsBr</text><text x="106.93" y="345.52" font-size="8.40">2−</text><text x="111.84" y="355.12" font-size="8.40">6</text><text x="116.51" y="350.80" font-size="12">/OsBr</text><text x="147.18" y="345.52" font-size="8.40">3−</text><text x="152.08" y="355.12" font-size="8.40">6</text><text x="156.76" y="350.80" font-size="12"> (solubility unknown)</text></g>
<g fill="#262626" ><text x="79.30" y="375.70" font-size="12">Ru</text><text x="94.64" y="371.86" font-size="8.40">3+</text><text x="104.22" y="375.70" font-size="12">/Ru</text><text x="122.89" y="371.86" font-size="8.40">2+</text><text x="132.47" y="375.70" font-size="12"> (solubility unknown)</text></g>
<g fill="#262626" ><text x="271.60" y="365.80" font-size="12">S</text><text x="279.60" y="369.40" font-size="8.40">4</text><text x="284.28" y="365.80" font-size="12">O</text><text x="293.61" y="360.52" font-size="8.40">2−</text><text x="298.52" y="370.12" font-size="8.40">6</text><text x="303.19" y="365.80" font-size="12">/S</text><text x="314.52" y="369.40" font-size="8.40">2</text><text x="319.20" y="365.80" font-size="12">O</text><text x="328.53" y="360.52" font-size="8.40">2−</text><text x="333.44" y="370.12" font-size="8.40">3</text><text x="338.11" y="365.80" font-size="12"> (potassium salt)</text></g>
<g fill="#262626" ><text x="297.60" y="182.40" font-size="12">I</text><text x="300.93" y="177.12" font-size="8.40">−</text><text x="301.17" y="186.72" font-size="8.40">3</text><text x="305.84" y="182.40" font-size="12">/I</text><text x="312.51" y="177.12" font-size="8.40">−</text><text x="317.41" y="182.40" font-size="12"> (potassium salt)</text></g>
<g fill="#262626" ><text x="331.50" y="203.50" font-size="12">I</text><text x="334.83" y="198.22" font-size="8.40">−</text><text x="335.07" y="207.82" font-size="8.40">3</text><text x="339.74" y="203.50" font-size="12">/I</text><text x="346.41" y="198.22" font-size="8.40">−</text><text x="351.31" y="203.50" font-size="12"> (lithium salt)</text></g>
<g fill="#262626" ><text x="324.00" y="256.80" font-size="12">I</text><text x="327.33" y="251.52" font-size="8.40">−</text><text x="327.57" y="261.12" font-size="8.40">3</text><text x="332.24" y="256.80" font-size="12">/I</text><text x="338.91" y="251.52" font-size="8.40">−</text><text x="343.81" y="256.80" font-size="12"> (sodium salt)</text></g>
</g>
<text x="437.50" y="458.30" font-size="19" fill="#111" text-anchor="start" font-weight="bold" >d</text>
<path d="M486.5,454.8 V643.2 H676.5" stroke="#4a4a4a" stroke-width="1.3" fill="none"/>
<path d="M481.5,631.45 H486.5 M481.5,607.90 H486.5 M481.5,584.35 H486.5 M481.5,560.80 H486.5 M481.5,537.25 H486.5 M481.5,513.70 H486.5 M481.5,490.15 H486.5 M481.5,466.60 H486.5 M483.5,643.22 H486.5 M483.5,619.67 H486.5 M483.5,596.12 H486.5 M483.5,572.57 H486.5 M483.5,549.02 H486.5 M483.5,525.47 H486.5 M483.5,501.92 H486.5 M483.5,478.37 H486.5 M486.50,643.2 V649.2 M515.70,643.2 V649.2 M544.90,643.2 V649.2 M574.10,643.2 V649.2 M603.30,643.2 V649.2 M632.50,643.2 V649.2 M661.70,643.2 V649.2 M501.10,643.2 V646.2 M530.30,643.2 V646.2 M559.50,643.2 V646.2 M588.70,643.2 V646.2 M617.90,643.2 V646.2 M647.10,643.2 V646.2 M676.30,643.2 V646.2" stroke="#4a4a4a" stroke-width="1.1" fill="none"/>
<text x="477.40" y="636.05" font-size="13" fill="#262626" text-anchor="end" >−0.3</text>
<text x="477.40" y="612.50" font-size="13" fill="#262626" text-anchor="end" >−0.2</text>
<text x="477.40" y="588.95" font-size="13" fill="#262626" text-anchor="end" >−0.1</text>
<text x="477.40" y="565.40" font-size="13" fill="#262626" text-anchor="end" >0.0</text>
<text x="477.40" y="541.85" font-size="13" fill="#262626" text-anchor="end" >0.1</text>
<text x="477.40" y="518.30" font-size="13" fill="#262626" text-anchor="end" >0.2</text>
<text x="477.40" y="494.75" font-size="13" fill="#262626" text-anchor="end" >0.3</text>
<text x="477.40" y="471.20" font-size="13" fill="#262626" text-anchor="end" >0.4</text>
<text x="486.50" y="662.30" font-size="13" fill="#262626" text-anchor="middle" >3.0</text>
<text x="515.70" y="662.30" font-size="13" fill="#262626" text-anchor="middle" >3.2</text>
<text x="544.90" y="662.30" font-size="13" fill="#262626" text-anchor="middle" >3.4</text>
<text x="574.10" y="662.30" font-size="13" fill="#262626" text-anchor="middle" >3.6</text>
<text x="603.30" y="662.30" font-size="13" fill="#262626" text-anchor="middle" >3.8</text>
<text x="632.50" y="662.30" font-size="13" fill="#262626" text-anchor="middle" >4.0</text>
<text x="661.70" y="662.30" font-size="13" fill="#262626" text-anchor="middle" >4.2</text>
<g fill="#262626" ><text x="512.00" y="684.00" font-size="13.9">Potential / versus Li</text><text x="633.30" y="679.55" font-size="9.73">+</text><text x="638.98" y="684.00" font-size="13.9">/Li</text></g>
<text x="443.40" y="548.50" font-size="13.9" fill="#262626" text-anchor="middle" transform="rotate(-90 443.4 548.5)">Current (mA)</text>
<text x="497.00" y="493.60" font-size="11.6" fill="#1e1e1e" text-anchor="start" >0.01–0.25 mV s</text>
<text x="579.25" y="488.80" font-size="8.6" fill="#1e1e1e" text-anchor="start" >−1</text>
<line x1="579.7" y1="523.3" x2="595.5" y2="494.5" stroke="#111" stroke-width="2"/>
<path d="M598.3,489.2 L590.6,496.0 L598.6,499.7 z" fill="#111"/>
<polyline points="492.3,560.8 492.9,560.8 493.5,560.8 494.1,560.8 494.7,560.8 495.3,560.8 495.8,560.8 496.4,560.8 497.0,560.8 497.6,560.8 498.2,560.8 498.8,560.8 499.3,560.8 499.9,560.8 500.5,560.8 501.1,560.8 501.7,560.8 502.3,560.8 502.9,560.8 503.4,560.8 504.0,560.8 504.6,560.8 505.2,560.8 505.8,560.8 506.4,560.8 506.9,560.8 507.5,560.8 508.1,560.8 508.7,560.8 509.3,560.8 509.9,560.8 510.4,560.8 511.0,560.8 511.6,560.8 512.2,560.8 512.8,560.8 513.4,560.8 513.9,560.8 514.5,560.8 515.1,560.8 515.7,560.8 516.3,560.8 516.9,560.8 517.5,560.8 518.0,560.8 518.6,560.8 519.2,560.8 519.8,560.8 520.4,560.8 521.0,560.8 521.5,560.8 522.1,560.8 522.7,560.8 523.3,560.8 523.9,560.8 524.5,560.8 525.0,560.8 525.6,560.8 526.2,560.8 526.8,560.8 527.4,560.8 528.0,560.8 528.5,560.8 529.1,560.8 529.7,560.8 530.3,560.8 530.9,560.8 531.5,560.8 532.1,560.8 532.6,560.8 533.2,560.8 533.8,560.8 534.4,560.8 535.0,560.8 535.6,560.8 536.1,560.8 536.7,560.8 537.3,560.8 537.9,560.8 538.5,560.8 539.1,560.8 539.6,560.8 540.2,560.8 540.8,560.8 541.4,560.8 542.0,560.8 542.6,560.8 543.1,560.8 543.7,560.8 544.3,560.8 544.9,560.8 545.5,560.8 546.1,560.8 546.7,560.8 547.2,560.8 547.8,560.8 548.4,560.8 549.0,560.8 549.6,560.8 550.2,560.8 550.7,560.8 551.3,560.8 551.9,560.8 552.5,560.8 553.1,560.8 553.7,560.8 554.2,560.8 554.8,560.8 555.4,560.8 556.0,560.8 556.6,560.8 557.2,560.8 557.7,560.8 558.3,560.8 558.9,560.8 559.5,560.8 560.1,560.8 560.7,560.8 561.3,560.8 561.8,560.8 562.4,560.8 563.0,560.8 563.6,560.8 564.2,560.8 564.8,560.8 565.3,560.8 565.9,560.7 566.5,560.7 567.1,560.7 567.7,560.6 568.3,560.6 568.8,560.5 569.4,560.4 570.0,560.3 570.6,560.2 571.2,560.1 571.8,559.9 572.3,559.7 572.9,559.4 573.5,559.1 574.1,558.8 574.7,558.4 575.3,558.0 575.9,557.5 576.4,557.0 577.0,556.5 577.6,555.9 578.2,555.4 578.8,554.8 579.4,554.1 579.9,553.5 580.5,552.9 581.1,552.3 581.7,551.6 582.3,551.0 582.9,550.4 583.4,549.9 584.0,549.4 584.6,548.9 585.2,548.6 585.8,548.3 586.4,548.1 586.9,548.1 587.5,548.2 588.1,548.5 588.7,549.0 589.3,549.6 589.9,550.3 590.5,551.1 591.0,551.9 591.6,552.8 592.2,553.7 592.8,554.5 593.4,555.3 594.0,555.9 594.5,556.6 595.1,557.1 595.7,557.6 596.3,558.0 596.9,558.4 597.5,558.7 598.0,559.0 598.6,559.2 599.2,559.4 599.8,559.6 600.4,559.7 601.0,559.9 601.5,560.0 602.1,560.1 602.7,560.2 603.3,560.3 603.9,560.3 604.5,560.4 605.1,560.5 605.6,560.5 606.2,560.5 606.8,560.6 607.4,560.6 608.0,560.6 608.6,560.6 609.1,560.7 609.7,560.7 610.3,560.7 610.9,560.7 611.5,560.7 612.1,560.7 612.6,560.7 613.2,560.7 613.8,560.8 614.4,560.8 615.0,560.8 615.6,560.8 616.1,560.8 616.7,560.8 617.3,560.8 617.9,560.8 618.5,560.8 619.1,560.8 619.7,560.8 620.2,560.8 620.8,560.8 621.4,560.8 622.0,560.8 622.6,560.8 623.2,560.8 623.7,560.8 624.3,560.8 624.9,560.8 625.5,560.8 626.1,560.8 626.7,560.8 627.2,560.8 627.8,560.8 628.4,560.8 629.0,560.8 629.6,560.8 630.2,560.8 630.7,560.8 631.3,560.8 631.9,560.8 632.5,560.8 633.1,560.8 633.7,560.8 634.3,560.8 634.8,560.8 635.4,560.8 636.0,560.8 636.6,560.8 637.2,560.8 637.8,560.8 638.3,560.8 638.9,560.8 639.5,560.8 640.1,560.8 640.7,560.8 641.3,560.8 641.8,560.8 642.4,560.8 643.0,560.8 643.6,560.8 644.2,560.8 644.8,560.8 645.3,560.8 645.9,560.8 646.5,560.8 647.1,560.8 647.7,560.8 648.3,560.8 648.9,560.8 649.4,560.8 650.0,560.8 650.6,560.8 651.2,560.8 651.8,560.8 652.4,560.8 652.9,560.8 653.5,560.8 654.1,560.8 654.7,560.8 655.3,560.8 655.9,560.8 656.4,560.8 657.0,560.8 657.6,560.8 658.2,560.8 658.8,560.8 659.4,560.8 659.9,560.8 660.5,560.8 661.1,560.8 661.7,560.8 662.3,560.8 662.9,560.8 663.5,560.8 664.0,560.8 664.6,560.8 665.2,560.8 665.8,560.8 666.4,560.8 667.0,560.8 667.5,560.8 667.0,560.8 666.4,560.8 665.8,560.8 665.2,560.8 664.6,560.8 664.0,560.8 663.5,560.8 662.9,560.8 662.3,560.8 661.7,560.8 661.1,560.8 660.5,560.8 659.9,560.8 659.4,560.8 658.8,560.8 658.2,560.8 657.6,560.8 657.0,560.8 656.4,560.8 655.9,560.8 655.3,560.8 654.7,560.8 654.1,560.8 653.5,560.8 652.9,560.8 652.4,560.8 651.8,560.8 651.2,560.8 650.6,560.8 650.0,560.8 649.4,560.8 648.9,560.8 648.3,560.8 647.7,560.8 647.1,560.8 646.5,560.8 645.9,560.8 645.3,560.8 644.8,560.8 644.2,560.8 643.6,560.8 643.0,560.8 642.4,560.8 641.8,560.8 641.3,560.8 640.7,560.8 640.1,560.8 639.5,560.8 638.9,560.8 638.3,560.8 637.8,560.8 637.2,560.8 636.6,560.8 636.0,560.8 635.4,560.8 634.8,560.8 634.3,560.8 633.7,560.8 633.1,560.8 632.5,560.8 631.9,560.8 631.3,560.8 630.7,560.8 630.2,560.8 629.6,560.8 629.0,560.8 628.4,560.8 627.8,560.8 627.2,560.8 626.7,560.8 626.1,560.8 625.5,560.8 624.9,560.8 624.3,560.8 623.7,560.8 623.2,560.8 622.6,560.8 622.0,560.8 621.4,560.8 620.8,560.8 620.2,560.8 619.7,560.8 619.1,560.8 618.5,560.8 617.9,560.8 617.3,560.8 616.7,560.8 616.1,560.8 615.6,560.8 615.0,560.8 614.4,560.8 613.8,560.8 613.2,560.8 612.6,560.8 612.1,560.8 611.5,560.8 610.9,560.8 610.3,560.8 609.7,560.8 609.1,560.8 608.6,560.8 608.0,560.8 607.4,560.8 606.8,560.8 606.2,560.8 605.6,560.8 605.1,560.8 604.5,560.8 603.9,560.8 603.3,560.8 602.7,560.8 602.1,560.8 601.5,560.8 601.0,560.8 600.4,560.8 599.8,560.8 599.2,560.8 598.6,560.8 598.0,560.8 597.5,560.8 596.9,560.8 596.3,560.8 595.7,560.8 595.1,560.8 594.5,560.8 594.0,560.8 593.4,560.8 592.8,560.8 592.2,560.8 591.6,560.9 591.0,560.9 590.5,560.9 589.9,561.0 589.3,561.0 588.7,561.1 588.1,561.2 587.5,561.3 586.9,561.4 586.4,561.5 585.8,561.7 585.2,561.9 584.6,562.2 584.0,562.5 583.4,562.8 582.9,563.2 582.3,563.6 581.7,564.1 581.1,564.6 580.5,565.1 579.9,565.7 579.4,566.2 578.8,566.8 578.2,567.4 577.6,568.1 577.0,568.7 576.4,569.3 575.9,570.0 575.3,570.6 574.7,571.2 574.1,571.7 573.5,572.2 572.9,572.7 572.3,573.0 571.8,573.3 571.2,573.5 570.6,573.5 570.0,573.4 569.4,573.1 568.8,572.6 568.3,572.0 567.7,571.3 567.1,570.5 566.5,569.7 565.9,568.8 565.3,567.9 564.8,567.1 564.2,566.3 563.6,565.7 563.0,565.0 562.4,564.5 561.8,564.0 561.3,563.6 560.7,563.3 560.1,562.9 559.5,562.7 558.9,562.4 558.3,562.2 557.7,562.0 557.2,561.9 556.6,561.7 556.0,561.6 555.4,561.5 554.8,561.4 554.2,561.3 553.7,561.3 553.1,561.2 552.5,561.2 551.9,561.1 551.3,561.1 550.7,561.0 550.2,561.0 549.6,561.0 549.0,561.0 548.4,560.9 547.8,560.9 547.2,560.9 546.7,560.9 546.1,560.9 545.5,560.9 544.9,560.9 544.3,560.9 543.7,560.8 543.1,560.8 542.6,560.8 542.0,560.8 541.4,560.8 540.8,560.8 540.2,560.8 539.6,560.8 539.1,560.8 538.5,560.8 537.9,560.8 537.3,560.8 536.7,560.8 536.1,560.8 535.6,560.8 535.0,560.8 534.4,560.8 533.8,560.8 533.2,560.8 532.6,560.8 532.1,560.8 531.5,560.8 530.9,560.8 530.3,560.8 529.7,560.8 529.1,560.8 528.5,560.8 528.0,560.8 527.4,560.8 526.8,560.8 526.2,560.8 525.6,560.8 525.0,560.8 524.5,560.8 523.9,560.8 523.3,560.8 522.7,560.8 522.1,560.8 521.5,560.8 521.0,560.8 520.4,560.8 519.8,560.8 519.2,560.8 518.6,560.8 518.0,560.8 517.5,560.8 516.9,560.8 516.3,560.8 515.7,560.8 515.1,560.8 514.5,560.8 513.9,560.8 513.4,560.8 512.8,560.8 512.2,560.8 511.6,560.8 511.0,560.8 510.4,560.8 509.9,560.8 509.3,560.8 508.7,560.8 508.1,560.8 507.5,560.8 506.9,560.8 506.4,560.8 505.8,560.8 505.2,560.8 504.6,560.8 504.0,560.8 503.4,560.8 502.9,560.8 502.3,560.8 501.7,560.8 501.1,560.8 500.5,560.8 499.9,560.8 499.3,560.8 498.8,560.8 498.2,560.8 497.6,560.8 497.0,560.8 496.4,560.8 495.8,560.8 495.3,560.8 494.7,560.8 494.1,560.8 493.5,560.8 492.9,560.8 492.3,560.8" fill="none" stroke="#4d5662" stroke-width="2" stroke-linejoin="round"/>
<polyline points="492.3,560.8 492.9,560.8 493.5,560.8 494.1,560.8 494.7,560.8 495.3,560.8 495.8,560.8 496.4,560.8 497.0,560.8 497.6,560.8 498.2,560.8 498.8,560.8 499.3,560.8 499.9,560.8 500.5,560.8 501.1,560.8 501.7,560.8 502.3,560.8 502.9,560.8 503.4,560.8 504.0,560.8 504.6,560.8 505.2,560.8 505.8,560.8 506.4,560.8 506.9,560.8 507.5,560.8 508.1,560.8 508.7,560.8 509.3,560.8 509.9,560.8 510.4,560.8 511.0,560.8 511.6,560.8 512.2,560.8 512.8,560.8 513.4,560.8 513.9,560.8 514.5,560.8 515.1,560.8 515.7,560.8 516.3,560.8 516.9,560.8 517.5,560.8 518.0,560.8 518.6,560.8 519.2,560.8 519.8,560.8 520.4,560.8 521.0,560.8 521.5,560.8 522.1,560.8 522.7,560.8 523.3,560.8 523.9,560.8 524.5,560.8 525.0,560.8 525.6,560.8 526.2,560.8 526.8,560.8 527.4,560.8 528.0,560.8 528.5,560.8 529.1,560.8 529.7,560.8 530.3,560.8 530.9,560.8 531.5,560.8 532.1,560.8 532.6,560.8 533.2,560.8 533.8,560.8 534.4,560.8 535.0,560.8 535.6,560.8 536.1,560.8 536.7,560.8 537.3,560.8 537.9,560.8 538.5,560.8 539.1,560.8 539.6,560.8 540.2,560.8 540.8,560.8 541.4,560.8 542.0,560.8 542.6,560.8 543.1,560.8 543.7,560.8 544.3,560.8 544.9,560.8 545.5,560.8 546.1,560.8 546.7,560.8 547.2,560.8 547.8,560.8 548.4,560.8 549.0,560.8 549.6,560.8 550.2,560.8 550.7,560.8 551.3,560.8 551.9,560.8 552.5,560.8 553.1,560.8 553.7,560.8 554.2,560.8 554.8,560.8 555.4,560.8 556.0,560.8 556.6,560.8 557.2,560.8 557.7,560.8 558.3,560.8 558.9,560.8 559.5,560.8 560.1,560.8 560.7,560.8 561.3,560.8 561.8,560.8 562.4,560.8 563.0,560.8 563.6,560.8 564.2,560.8 564.8,560.7 565.3,560.7 565.9,560.7 566.5,560.7 567.1,560.6 567.7,560.5 568.3,560.5 568.8,560.4 569.4,560.2 570.0,560.1 570.6,559.9 571.2,559.7 571.8,559.4 572.3,559.1 572.9,558.7 573.5,558.4 574.1,557.9 574.7,557.4 575.3,556.9 575.9,556.3 576.4,555.7 577.0,555.1 577.6,554.4 578.2,553.7 578.8,553.0 579.4,552.2 579.9,551.5 580.5,550.7 581.1,549.9 581.7,549.1 582.3,548.2 582.9,547.4 583.4,546.6 584.0,545.8 584.6,545.0 585.2,544.1 585.8,543.4 586.4,542.6 586.9,541.9 587.5,541.2 588.1,540.5 588.7,539.9 589.3,539.5 589.9,539.1 590.5,538.8 591.0,538.7 591.6,538.8 592.2,539.1 592.8,539.6 593.4,540.3 594.0,541.2 594.5,542.3 595.1,543.4 595.7,544.6 596.3,545.8 596.9,547.0 597.5,548.2 598.0,549.2 598.6,550.2 599.2,551.0 599.8,551.9 600.4,552.6 601.0,553.2 601.5,553.9 602.1,554.4 602.7,554.9 603.3,555.4 603.9,555.8 604.5,556.2 605.1,556.6 605.6,556.9 606.2,557.2 606.8,557.5 607.4,557.8 608.0,558.0 608.6,558.2 609.1,558.4 609.7,558.6 610.3,558.8 610.9,559.0 611.5,559.1 612.1,559.2 612.6,559.4 613.2,559.5 613.8,559.6 614.4,559.7 615.0,559.8 615.6,559.9 616.1,559.9 616.7,560.0 617.3,560.1 617.9,560.1 618.5,560.2 619.1,560.2 619.7,560.3 620.2,560.3 620.8,560.4 621.4,560.4 622.0,560.4 622.6,560.5 623.2,560.5 623.7,560.5 624.3,560.5 624.9,560.5 625.5,560.6 626.1,560.6 626.7,560.6 627.2,560.6 627.8,560.6 628.4,560.6 629.0,560.7 629.6,560.7 630.2,560.7 630.7,560.7 631.3,560.7 631.9,560.7 632.5,560.7 633.1,560.7 633.7,560.7 634.3,560.7 634.8,560.7 635.4,560.7 636.0,560.7 636.6,560.8 637.2,560.8 637.8,560.8 638.3,560.8 638.9,560.8 639.5,560.8 640.1,560.8 640.7,560.8 641.3,560.8 641.8,560.8 642.4,560.8 643.0,560.8 643.6,560.8 644.2,560.8 644.8,560.8 645.3,560.8 645.9,560.8 646.5,560.8 647.1,560.8 647.7,560.8 648.3,560.8 648.9,560.8 649.4,560.8 650.0,560.8 650.6,560.8 651.2,560.8 651.8,560.8 652.4,560.8 652.9,560.8 653.5,560.8 654.1,560.8 654.7,560.8 655.3,560.8 655.9,560.8 656.4,560.8 657.0,560.8 657.6,560.8 658.2,560.8 658.8,560.8 659.4,560.8 659.9,560.8 660.5,560.8 661.1,560.8 661.7,560.8 662.3,560.8 662.9,560.8 663.5,560.8 664.0,560.8 664.6,560.8 665.2,560.8 665.8,560.8 666.4,560.8 667.0,560.8 667.5,560.8 667.0,560.8 666.4,560.8 665.8,560.8 665.2,560.8 664.6,560.8 664.0,560.8 663.5,560.8 662.9,560.8 662.3,560.8 661.7,560.8 661.1,560.8 660.5,560.8 659.9,560.8 659.4,560.8 658.8,560.8 658.2,560.8 657.6,560.8 657.0,560.8 656.4,560.8 655.9,560.8 655.3,560.8 654.7,560.8 654.1,560.8 653.5,560.8 652.9,560.8 652.4,560.8 651.8,560.8 651.2,560.8 650.6,560.8 650.0,560.8 649.4,560.8 648.9,560.8 648.3,560.8 647.7,560.8 647.1,560.8 646.5,560.8 645.9,560.8 645.3,560.8 644.8,560.8 644.2,560.8 643.6,560.8 643.0,560.8 642.4,560.8 641.8,560.8 641.3,560.8 640.7,560.8 640.1,560.8 639.5,560.8 638.9,560.8 638.3,560.8 637.8,560.8 637.2,560.8 636.6,560.8 636.0,560.8 635.4,560.8 634.8,560.8 634.3,560.8 633.7,560.8 633.1,560.8 632.5,560.8 631.9,560.8 631.3,560.8 630.7,560.8 630.2,560.8 629.6,560.8 629.0,560.8 628.4,560.8 627.8,560.8 627.2,560.8 626.7,560.8 626.1,560.8 625.5,560.8 624.9,560.8 624.3,560.8 623.7,560.8 623.2,560.8 622.6,560.8 622.0,560.8 621.4,560.8 620.8,560.8 620.2,560.8 619.7,560.8 619.1,560.8 618.5,560.8 617.9,560.8 617.3,560.8 616.7,560.8 616.1,560.8 615.6,560.8 615.0,560.8 614.4,560.8 613.8,560.8 613.2,560.8 612.6,560.8 612.1,560.8 611.5,560.8 610.9,560.8 610.3,560.8 609.7,560.8 609.1,560.8 608.6,560.8 608.0,560.8 607.4,560.8 606.8,560.8 606.2,560.8 605.6,560.8 605.1,560.8 604.5,560.8 603.9,560.8 603.3,560.8 602.7,560.8 602.1,560.8 601.5,560.8 601.0,560.8 600.4,560.8 599.8,560.8 599.2,560.8 598.6,560.8 598.0,560.8 597.5,560.8 596.9,560.8 596.3,560.8 595.7,560.8 595.1,560.8 594.5,560.8 594.0,560.8 593.4,560.8 592.8,560.9 592.2,560.9 591.6,560.9 591.0,560.9 590.5,561.0 589.9,561.0 589.3,561.1 588.7,561.2 588.1,561.3 587.5,561.4 586.9,561.6 586.4,561.8 585.8,562.0 585.2,562.3 584.6,562.6 584.0,563.0 583.4,563.4 582.9,563.9 582.3,564.4 581.7,564.9 581.1,565.5 580.5,566.1 579.9,566.7 579.4,567.4 578.8,568.1 578.2,568.8 577.6,569.5 577.0,570.3 576.4,571.1 575.9,571.8 575.3,572.6 574.7,573.4 574.1,574.2 573.5,575.0 572.9,575.7 572.3,576.5 571.8,577.2 571.2,577.9 570.6,578.6 570.0,579.2 569.4,579.7 568.8,580.2 568.3,580.5 567.7,580.8 567.1,580.9 566.5,580.8 565.9,580.6 565.3,580.2 564.8,579.7 564.2,579.0 563.6,578.2 563.0,577.3 562.4,576.3 561.8,575.4 561.3,574.5 560.7,573.6 560.1,572.8 559.5,572.0 558.9,571.3 558.3,570.7 557.7,570.1 557.2,569.5 556.6,569.0 556.0,568.5 555.4,568.1 554.8,567.7 554.2,567.3 553.7,566.9 553.1,566.5 552.5,566.2 551.9,565.9 551.3,565.6 550.7,565.3 550.2,565.1 549.6,564.8 549.0,564.6 548.4,564.4 547.8,564.2 547.2,564.0 546.7,563.8 546.1,563.6 545.5,563.4 544.9,563.3 544.3,563.1 543.7,563.0 543.1,562.9 542.6,562.8 542.0,562.7 541.4,562.5 540.8,562.4 540.2,562.4 539.6,562.3 539.1,562.2 538.5,562.1 537.9,562.0 537.3,562.0 536.7,561.9 536.1,561.8 535.6,561.8 535.0,561.7 534.4,561.7 533.8,561.6 533.2,561.6 532.6,561.5 532.1,561.5 531.5,561.4 530.9,561.4 530.3,561.4 529.7,561.3 529.1,561.3 528.5,561.3 528.0,561.2 527.4,561.2 526.8,561.2 526.2,561.2 525.6,561.2 525.0,561.1 524.5,561.1 523.9,561.1 523.3,561.1 522.7,561.1 522.1,561.0 521.5,561.0 521.0,561.0 520.4,561.0 519.8,561.0 519.2,561.0 518.6,561.0 518.0,561.0 517.5,561.0 516.9,560.9 516.3,560.9 515.7,560.9 515.1,560.9 514.5,560.9 513.9,560.9 513.4,560.9 512.8,560.9 512.2,560.9 511.6,560.9 511.0,560.9 510.4,560.9 509.9,560.9 509.3,560.9 508.7,560.9 508.1,560.9 507.5,560.9 506.9,560.9 506.4,560.8 505.8,560.8 505.2,560.8 504.6,560.8 504.0,560.8 503.4,560.8 502.9,560.8 502.3,560.8 501.7,560.8 501.1,560.8 500.5,560.8 499.9,560.8 499.3,560.8 498.8,560.8 498.2,560.8 497.6,560.8 497.0,560.8 496.4,560.8 495.8,560.8 495.3,560.8 494.7,560.8 494.1,560.8 493.5,560.8 492.9,560.8 492.3,560.8" fill="none" stroke="#f07a2a" stroke-width="2" stroke-linejoin="round"/>
<polyline points="492.3,561.8 492.9,561.8 493.5,561.8 494.1,561.8 494.7,561.8 495.3,561.7 495.8,561.7 496.4,561.7 497.0,561.7 497.6,561.6 498.2,561.6 498.8,561.6 499.3,561.6 499.9,561.6 500.5,561.5 501.1,561.5 501.7,561.5 502.3,561.5 502.9,561.5 503.4,561.4 504.0,561.4 504.6,561.4 505.2,561.4 505.8,561.4 506.4,561.4 506.9,561.4 507.5,561.3 508.1,561.3 508.7,561.3 509.3,561.3 509.9,561.3 510.4,561.3 511.0,561.3 511.6,561.2 512.2,561.2 512.8,561.2 513.4,561.2 513.9,561.2 514.5,561.2 515.1,561.2 515.7,561.2 516.3,561.2 516.9,561.2 517.5,561.1 518.0,561.1 518.6,561.1 519.2,561.1 519.8,561.1 520.4,561.1 521.0,561.1 521.5,561.1 522.1,561.1 522.7,561.1 523.3,561.1 523.9,561.1 524.5,561.0 525.0,561.0 525.6,561.0 526.2,561.0 526.8,561.0 527.4,561.0 528.0,561.0 528.5,561.0 529.1,561.0 529.7,561.0 530.3,561.0 530.9,561.0 531.5,561.0 532.1,561.0 532.6,561.0 533.2,561.0 533.8,561.0 534.4,561.0 535.0,561.0 535.6,560.9 536.1,560.9 536.7,560.9 537.3,560.9 537.9,560.9 538.5,560.9 539.1,560.9 539.6,560.9 540.2,560.9 540.8,560.9 541.4,560.9 542.0,560.9 542.6,560.9 543.1,560.9 543.7,560.9 544.3,560.9 544.9,560.9 545.5,560.9 546.1,560.9 546.7,560.9 547.2,560.9 547.8,560.9 548.4,560.9 549.0,560.9 549.6,560.9 550.2,560.9 550.7,560.9 551.3,560.9 551.9,560.9 552.5,560.9 553.1,560.9 553.7,560.9 554.2,560.9 554.8,560.9 555.4,560.9 556.0,560.9 556.6,560.9 557.2,560.9 557.7,560.9 558.3,560.8 558.9,560.8 559.5,560.8 560.1,560.8 560.7,560.8 561.3,560.8 561.8,560.8 562.4,560.8 563.0,560.8 563.6,560.8 564.2,560.8 564.8,560.7 565.3,560.7 565.9,560.7 566.5,560.6 567.1,560.5 567.7,560.4 568.3,560.3 568.8,560.2 569.4,560.0 570.0,559.8 570.6,559.6 571.2,559.3 571.8,559.0 572.3,558.6 572.9,558.2 573.5,557.7 574.1,557.2 574.7,556.6 575.3,556.0 575.9,555.4 576.4,554.7 577.0,554.0 577.6,553.2 578.2,552.4 578.8,551.6 579.4,550.8 579.9,549.9 580.5,549.0 581.1,548.2 581.7,547.2 582.3,546.3 582.9,545.4 583.4,544.5 584.0,543.5 584.6,542.6 585.2,541.6 585.8,540.6 586.4,539.7 586.9,538.7 587.5,537.8 588.1,536.8 588.7,535.9 589.3,534.9 589.9,534.0 590.5,533.1 591.0,532.2 591.6,531.4 592.2,530.6 592.8,529.8 593.4,529.0 594.0,528.4 594.5,527.8 595.1,527.3 595.7,526.9 596.3,526.7 596.9,526.7 597.5,527.0 598.0,527.4 598.6,528.1 599.2,529.0 599.8,530.1 600.4,531.3 601.0,532.7 601.5,534.0 602.1,535.4 602.7,536.6 603.3,537.8 603.9,539.0 604.5,540.0 605.1,541.0 605.6,541.8 606.2,542.7 606.8,543.4 607.4,544.1 608.0,544.8 608.6,545.5 609.1,546.1 609.7,546.7 610.3,547.2 610.9,547.8 611.5,548.3 612.1,548.8 612.6,549.3 613.2,549.7 613.8,550.1 614.4,550.6 615.0,551.0 615.6,551.4 616.1,551.7 616.7,552.1 617.3,552.4 617.9,552.8 618.5,553.1 619.1,553.4 619.7,553.7 620.2,554.0 620.8,554.2 621.4,554.5 622.0,554.7 622.6,555.0 623.2,555.2 623.7,555.4 624.3,555.6 624.9,555.8 625.5,556.0 626.1,556.2 626.7,556.4 627.2,556.6 627.8,556.7 628.4,556.9 629.0,557.1 629.6,557.2 630.2,557.3 630.7,557.5 631.3,557.6 631.9,557.7 632.5,557.9 633.1,558.0 633.7,558.1 634.3,558.2 634.8,558.3 635.4,558.4 636.0,558.5 636.6,558.6 637.2,558.7 637.8,558.7 638.3,558.8 638.9,558.9 639.5,559.0 640.1,559.1 640.7,559.1 641.3,559.2 641.8,559.3 642.4,559.3 643.0,559.4 643.6,559.4 644.2,559.5 644.8,559.5 645.3,559.6 645.9,559.6 646.5,559.7 647.1,559.7 647.7,559.8 648.3,559.8 648.9,559.8 649.4,559.9 650.0,559.9 650.6,560.0 651.2,560.0 651.8,560.0 652.4,560.0 652.9,560.1 653.5,560.1 654.1,560.1 654.7,560.2 655.3,560.2 655.9,560.2 656.4,560.2 657.0,560.3 657.6,560.3 658.2,560.3 658.8,560.3 659.4,560.3 659.9,560.4 660.5,560.4 661.1,560.4 661.7,560.4 662.3,560.4 662.9,560.4 663.5,560.4 664.0,560.5 664.6,560.5 665.2,560.5 665.8,560.5 666.4,560.5 667.0,560.5 667.5,560.5 667.0,560.5 666.4,560.6 665.8,560.6 665.2,560.6 664.6,560.6 664.0,560.6 663.5,560.6 662.9,560.6 662.3,560.6 661.7,560.6 661.1,560.6 660.5,560.6 659.9,560.6 659.4,560.6 658.8,560.7 658.2,560.7 657.6,560.7 657.0,560.7 656.4,560.7 655.9,560.7 655.3,560.7 654.7,560.7 654.1,560.7 653.5,560.7 652.9,560.7 652.4,560.7 651.8,560.7 651.2,560.7 650.6,560.7 650.0,560.7 649.4,560.7 648.9,560.7 648.3,560.7 647.7,560.7 647.1,560.7 646.5,560.7 645.9,560.7 645.3,560.7 644.8,560.7 644.2,560.7 643.6,560.7 643.0,560.8 642.4,560.8 641.8,560.8 641.3,560.8 640.7,560.8 640.1,560.8 639.5,560.8 638.9,560.8 638.3,560.8 637.8,560.8 637.2,560.8 636.6,560.8 636.0,560.8 635.4,560.8 634.8,560.8 634.3,560.8 633.7,560.8 633.1,560.8 632.5,560.8 631.9,560.8 631.3,560.8 630.7,560.8 630.2,560.8 629.6,560.8 629.0,560.8 628.4,560.8 627.8,560.8 627.2,560.8 626.7,560.8 626.1,560.8 625.5,560.8 624.9,560.8 624.3,560.8 623.7,560.8 623.2,560.8 622.6,560.8 622.0,560.8 621.4,560.8 620.8,560.8 620.2,560.8 619.7,560.8 619.1,560.8 618.5,560.8 617.9,560.8 617.3,560.8 616.7,560.8 616.1,560.8 615.6,560.8 615.0,560.8 614.4,560.8 613.8,560.8 613.2,560.8 612.6,560.8 612.1,560.8 611.5,560.8 610.9,560.8 610.3,560.8 609.7,560.8 609.1,560.8 608.6,560.8 608.0,560.8 607.4,560.8 606.8,560.8 606.2,560.8 605.6,560.8 605.1,560.8 604.5,560.8 603.9,560.8 603.3,560.8 602.7,560.8 602.1,560.8 601.5,560.8 601.0,560.8 600.4,560.8 599.8,560.8 599.2,560.8 598.6,560.8 598.0,560.8 597.5,560.8 596.9,560.8 596.3,560.8 595.7,560.8 595.1,560.8 594.5,560.8 594.0,560.8 593.4,560.9 592.8,560.9 592.2,560.9 591.6,560.9 591.0,561.0 590.5,561.0 589.9,561.1 589.3,561.2 588.7,561.3 588.1,561.5 587.5,561.7 586.9,561.9 586.4,562.1 585.8,562.4 585.2,562.8 584.6,563.2 584.0,563.6 583.4,564.1 582.9,564.6 582.3,565.2 581.7,565.8 581.1,566.4 580.5,567.1 579.9,567.8 579.4,568.6 578.8,569.4 578.2,570.2 577.6,571.0 577.0,571.8 576.4,572.7 575.9,573.5 575.3,574.4 574.7,575.3 574.1,576.2 573.5,577.1 572.9,578.0 572.3,578.9 571.8,579.8 571.2,580.8 570.6,581.6 570.0,582.5 569.4,583.4 568.8,584.3 568.3,585.1 567.7,585.9 567.1,586.7 566.5,587.5 565.9,588.1 565.3,588.8 564.8,589.3 564.2,589.8 563.6,590.1 563.0,590.3 562.4,590.3 561.8,590.1 561.3,589.8 560.7,589.2 560.1,588.5 559.5,587.7 558.9,586.7 558.3,585.7 557.7,584.7 557.2,583.7 556.6,582.7 556.0,581.8 555.4,581.0 554.8,580.2 554.2,579.6 553.7,578.9 553.1,578.3 552.5,577.8 551.9,577.3 551.3,576.8 550.7,576.3 550.2,575.9 549.6,575.5 549.0,575.1 548.4,574.7 547.8,574.3 547.2,573.9 546.7,573.6 546.1,573.2 545.5,572.9 544.9,572.6 544.3,572.3 543.7,572.0 543.1,571.7 542.6,571.4 542.0,571.1 541.4,570.8 540.8,570.6 540.2,570.3 539.6,570.1 539.1,569.8 538.5,569.6 537.9,569.4 537.3,569.1 536.7,568.9 536.1,568.7 535.6,568.5 535.0,568.3 534.4,568.1 533.8,567.9 533.2,567.7 532.6,567.5 532.1,567.4 531.5,567.2 530.9,567.0 530.3,566.9 529.7,566.7 529.1,566.5 528.5,566.4 528.0,566.2 527.4,566.1 526.8,566.0 526.2,565.8 525.6,565.7 525.0,565.6 524.5,565.4 523.9,565.3 523.3,565.2 522.7,565.1 522.1,565.0 521.5,564.9 521.0,564.8 520.4,564.7 519.8,564.5 519.2,564.5 518.6,564.4 518.0,564.3 517.5,564.2 516.9,564.1 516.3,564.0 515.7,563.9 515.1,563.8 514.5,563.8 513.9,563.7 513.4,563.6 512.8,563.5 512.2,563.5 511.6,563.4 511.0,563.3 510.4,563.2 509.9,563.2 509.3,563.1 508.7,563.1 508.1,563.0 507.5,562.9 506.9,562.9 506.4,562.8 505.8,562.8 505.2,562.7 504.6,562.7 504.0,562.6 503.4,562.6 502.9,562.5 502.3,562.5 501.7,562.4 501.1,562.4 500.5,562.4 499.9,562.3 499.3,562.3 498.8,562.2 498.2,562.2 497.6,562.2 497.0,562.1 496.4,562.1 495.8,562.1 495.3,562.0 494.7,562.0 494.1,562.0 493.5,561.9 492.9,561.9 492.3,561.9" fill="none" stroke="#74782e" stroke-width="2" stroke-linejoin="round"/>
<polyline points="492.3,563.2 492.9,563.2 493.5,563.1 494.1,563.1 494.7,563.0 495.3,563.0 495.8,562.9 496.4,562.9 497.0,562.8 497.6,562.8 498.2,562.7 498.8,562.7 499.3,562.6 499.9,562.6 500.5,562.6 501.1,562.5 501.7,562.5 502.3,562.4 502.9,562.4 503.4,562.4 504.0,562.3 504.6,562.3 505.2,562.2 505.8,562.2 506.4,562.2 506.9,562.1 507.5,562.1 508.1,562.1 508.7,562.0 509.3,562.0 509.9,562.0 510.4,562.0 511.0,561.9 511.6,561.9 512.2,561.9 512.8,561.9 513.4,561.8 513.9,561.8 514.5,561.8 515.1,561.8 515.7,561.7 516.3,561.7 516.9,561.7 517.5,561.7 518.0,561.6 518.6,561.6 519.2,561.6 519.8,561.6 520.4,561.6 521.0,561.5 521.5,561.5 522.1,561.5 522.7,561.5 523.3,561.5 523.9,561.5 524.5,561.4 525.0,561.4 525.6,561.4 526.2,561.4 526.8,561.4 527.4,561.4 528.0,561.4 528.5,561.3 529.1,561.3 529.7,561.3 530.3,561.3 530.9,561.3 531.5,561.3 532.1,561.3 532.6,561.3 533.2,561.2 533.8,561.2 534.4,561.2 535.0,561.2 535.6,561.2 536.1,561.2 536.7,561.2 537.3,561.2 537.9,561.2 538.5,561.2 539.1,561.1 539.6,561.1 540.2,561.1 540.8,561.1 541.4,561.1 542.0,561.1 542.6,561.1 543.1,561.1 543.7,561.1 544.3,561.1 544.9,561.1 545.5,561.1 546.1,561.1 546.7,561.1 547.2,561.0 547.8,561.0 548.4,561.0 549.0,561.0 549.6,561.0 550.2,561.0 550.7,561.0 551.3,561.0 551.9,561.0 552.5,561.0 553.1,561.0 553.7,561.0 554.2,561.0 554.8,561.0 555.4,561.0 556.0,561.0 556.6,561.0 557.2,561.0 557.7,561.0 558.3,560.9 558.9,560.9 559.5,560.9 560.1,560.9 560.7,560.9 561.3,560.9 561.8,560.9 562.4,560.9 563.0,560.9 563.6,560.8 564.2,560.8 564.8,560.8 565.3,560.7 565.9,560.6 566.5,560.5 567.1,560.4 567.7,560.3 568.3,560.1 568.8,559.9 569.4,559.7 570.0,559.4 570.6,559.1 571.2,558.7 571.8,558.3 572.3,557.8 572.9,557.3 573.5,556.7 574.1,556.1 574.7,555.4 575.3,554.7 575.9,554.0 576.4,553.2 577.0,552.4 577.6,551.6 578.2,550.7 578.8,549.9 579.4,549.0 579.9,548.0 580.5,547.1 581.1,546.1 581.7,545.1 582.3,544.1 582.9,543.1 583.4,542.1 584.0,541.1 584.6,540.0 585.2,539.0 585.8,537.9 586.4,536.9 586.9,535.8 587.5,534.7 588.1,533.7 588.7,532.6 589.3,531.5 589.9,530.4 590.5,529.4 591.0,528.3 591.6,527.2 592.2,526.1 592.8,525.1 593.4,524.0 594.0,523.0 594.5,521.9 595.1,520.9 595.7,519.8 596.3,518.8 596.9,517.8 597.5,516.8 598.0,515.9 598.6,514.9 599.2,514.0 599.8,513.2 600.4,512.3 601.0,511.6 601.5,510.9 602.1,510.3 602.7,509.9 603.3,509.7 603.9,509.6 604.5,509.9 605.1,510.5 605.6,511.4 606.2,512.7 606.8,514.4 607.4,516.3 608.0,518.3 608.6,520.5 609.1,522.7 609.7,524.8 610.3,526.8 610.9,528.6 611.5,530.3 612.1,531.9 612.6,533.3 613.2,534.7 613.8,535.9 614.4,537.1 615.0,538.2 615.6,539.2 616.1,540.2 616.7,541.2 617.3,542.1 617.9,542.9 618.5,543.7 619.1,544.5 619.7,545.2 620.2,545.9 620.8,546.6 621.4,547.3 622.0,547.9 622.6,548.5 623.2,549.0 623.7,549.6 624.3,550.1 624.9,550.6 625.5,551.0 626.1,551.5 626.7,551.9 627.2,552.3 627.8,552.7 628.4,553.0 629.0,553.4 629.6,553.7 630.2,554.0 630.7,554.4 631.3,554.6 631.9,554.9 632.5,555.2 633.1,555.4 633.7,555.7 634.3,555.9 634.8,556.1 635.4,556.4 636.0,556.6 636.6,556.7 637.2,556.9 637.8,557.1 638.3,557.3 638.9,557.4 639.5,557.6 640.1,557.7 640.7,557.9 641.3,558.0 641.8,558.1 642.4,558.3 643.0,558.4 643.6,558.5 644.2,558.6 644.8,558.7 645.3,558.8 645.9,558.9 646.5,559.0 647.1,559.0 647.7,559.1 648.3,559.2 648.9,559.3 649.4,559.3 650.0,559.4 650.6,559.5 651.2,559.5 651.8,559.6 652.4,559.6 652.9,559.7 653.5,559.7 654.1,559.8 654.7,559.8 655.3,559.9 655.9,559.9 656.4,560.0 657.0,560.0 657.6,560.0 658.2,560.1 658.8,560.1 659.4,560.1 659.9,560.2 660.5,560.2 661.1,560.2 661.7,560.2 662.3,560.3 662.9,560.3 663.5,560.3 664.0,560.3 664.6,560.4 665.2,560.4 665.8,560.4 666.4,560.4 667.0,560.4 667.5,560.5 667.0,560.5 666.4,560.5 665.8,560.5 665.2,560.5 664.6,560.5 664.0,560.5 663.5,560.5 662.9,560.6 662.3,560.6 661.7,560.6 661.1,560.6 660.5,560.6 659.9,560.6 659.4,560.6 658.8,560.6 658.2,560.6 657.6,560.6 657.0,560.6 656.4,560.7 655.9,560.7 655.3,560.7 654.7,560.7 654.1,560.7 653.5,560.7 652.9,560.7 652.4,560.7 651.8,560.7 651.2,560.7 650.6,560.7 650.0,560.7 649.4,560.7 648.9,560.7 648.3,560.7 647.7,560.7 647.1,560.7 646.5,560.7 645.9,560.7 645.3,560.7 644.8,560.7 644.2,560.7 643.6,560.7 643.0,560.8 642.4,560.8 641.8,560.8 641.3,560.8 640.7,560.8 640.1,560.8 639.5,560.8 638.9,560.8 638.3,560.8 637.8,560.8 637.2,560.8 636.6,560.8 636.0,560.8 635.4,560.8 634.8,560.8 634.3,560.8 633.7,560.8 633.1,560.8 632.5,560.8 631.9,560.8 631.3,560.8 630.7,560.8 630.2,560.8 629.6,560.8 629.0,560.8 628.4,560.8 627.8,560.8 627.2,560.8 626.7,560.8 626.1,560.8 625.5,560.8 624.9,560.8 624.3,560.8 623.7,560.8 623.2,560.8 622.6,560.8 622.0,560.8 621.4,560.8 620.8,560.8 620.2,560.8 619.7,560.8 619.1,560.8 618.5,560.8 617.9,560.8 617.3,560.8 616.7,560.8 616.1,560.8 615.6,560.8 615.0,560.8 614.4,560.8 613.8,560.8 613.2,560.8 612.6,560.8 612.1,560.8 611.5,560.8 610.9,560.8 610.3,560.8 609.7,560.8 609.1,560.8 608.6,560.8 608.0,560.8 607.4,560.8 606.8,560.8 606.2,560.8 605.6,560.8 605.1,560.8 604.5,560.8 603.9,560.8 603.3,560.8 602.7,560.8 602.1,560.8 601.5,560.8 601.0,560.8 600.4,560.8 599.8,560.8 599.2,560.8 598.6,560.8 598.0,560.8 597.5,560.8 596.9,560.8 596.3,560.8 595.7,560.8 595.1,560.8 594.5,560.8 594.0,560.9 593.4,560.9 592.8,560.9 592.2,561.0 591.6,561.0 591.0,561.1 590.5,561.2 589.9,561.3 589.3,561.4 588.7,561.6 588.1,561.8 587.5,562.0 586.9,562.3 586.4,562.6 585.8,563.0 585.2,563.4 584.6,563.8 584.0,564.3 583.4,564.9 582.9,565.5 582.3,566.1 581.7,566.8 581.1,567.5 580.5,568.3 579.9,569.1 579.4,569.9 578.8,570.7 578.2,571.6 577.6,572.5 577.0,573.4 576.4,574.3 575.9,575.3 575.3,576.2 574.7,577.2 574.1,578.1 573.5,579.1 572.9,580.1 572.3,581.1 571.8,582.1 571.2,583.1 570.6,584.1 570.0,585.2 569.4,586.2 568.8,587.2 568.3,588.2 567.7,589.2 567.1,590.2 566.5,591.2 565.9,592.2 565.3,593.2 564.8,594.2 564.2,595.1 563.6,596.0 563.0,597.0 562.4,597.8 561.8,598.7 561.3,599.5 560.7,600.3 560.1,601.0 559.5,601.7 558.9,602.2 558.3,602.6 557.7,602.9 557.2,603.0 556.6,602.9 556.0,602.5 555.4,601.9 554.8,601.1 554.2,600.0 553.7,598.8 553.1,597.4 552.5,596.0 551.9,594.6 551.3,593.2 550.7,592.0 550.2,590.8 549.6,589.7 549.0,588.7 548.4,587.8 547.8,587.0 547.2,586.2 546.7,585.5 546.1,584.8 545.5,584.1 544.9,583.5 544.3,582.9 543.7,582.3 543.1,581.8 542.6,581.3 542.0,580.7 541.4,580.2 540.8,579.8 540.2,579.3 539.6,578.8 539.1,578.4 538.5,578.0 537.9,577.5 537.3,577.1 536.7,576.7 536.1,576.4 535.6,576.0 535.0,575.6 534.4,575.2 533.8,574.9 533.2,574.6 532.6,574.2 532.1,573.9 531.5,573.6 530.9,573.3 530.3,573.0 529.7,572.7 529.1,572.4 528.5,572.1 528.0,571.8 527.4,571.6 526.8,571.3 526.2,571.1 525.6,570.8 525.0,570.6 524.5,570.3 523.9,570.1 523.3,569.9 522.7,569.7 522.1,569.4 521.5,569.2 521.0,569.0 520.4,568.8 519.8,568.6 519.2,568.4 518.6,568.3 518.0,568.1 517.5,567.9 516.9,567.7 516.3,567.6 515.7,567.4 515.1,567.2 514.5,567.1 513.9,566.9 513.4,566.8 512.8,566.6 512.2,566.5 511.6,566.4 511.0,566.2 510.4,566.1 509.9,566.0 509.3,565.8 508.7,565.7 508.1,565.6 507.5,565.5 506.9,565.4 506.4,565.3 505.8,565.2 505.2,565.0 504.6,564.9 504.0,564.8 503.4,564.7 502.9,564.6 502.3,564.6 501.7,564.5 501.1,564.4 500.5,564.3 499.9,564.2 499.3,564.1 498.8,564.0 498.2,564.0 497.6,563.9 497.0,563.8 496.4,563.7 495.8,563.7 495.3,563.6 494.7,563.5 494.1,563.5 493.5,563.4 492.9,563.4 492.3,563.4" fill="none" stroke="#2c3e98" stroke-width="2" stroke-linejoin="round"/>
<polyline points="492.3,569.0 492.9,568.9 493.5,568.8 494.1,568.7 494.7,568.6 495.3,568.5 495.8,568.4 496.4,568.3 497.0,568.2 497.6,568.1 498.2,568.0 498.8,567.9 499.3,567.8 499.9,567.7 500.5,567.6 501.1,567.5 501.7,567.4 502.3,567.3 502.9,567.2 503.4,567.1 504.0,567.0 504.6,566.9 505.2,566.8 505.8,566.8 506.4,566.7 506.9,566.6 507.5,566.5 508.1,566.4 508.7,566.3 509.3,566.3 509.9,566.2 510.4,566.1 511.0,566.0 511.6,566.0 512.2,565.9 512.8,565.8 513.4,565.7 513.9,565.7 514.5,565.6 515.1,565.5 515.7,565.4 516.3,565.4 516.9,565.3 517.5,565.3 518.0,565.2 518.6,565.1 519.2,565.1 519.8,565.0 520.4,564.9 521.0,564.9 521.5,564.8 522.1,564.8 522.7,564.7 523.3,564.6 523.9,564.6 524.5,564.5 525.0,564.5 525.6,564.4 526.2,564.4 526.8,564.3 527.4,564.3 528.0,564.2 528.5,564.2 529.1,564.1 529.7,564.1 530.3,564.0 530.9,564.0 531.5,563.9 532.1,563.9 532.6,563.8 533.2,563.8 533.8,563.8 534.4,563.7 535.0,563.7 535.6,563.6 536.1,563.6 536.7,563.5 537.3,563.5 537.9,563.5 538.5,563.4 539.1,563.4 539.6,563.4 540.2,563.3 540.8,563.3 541.4,563.2 542.0,563.2 542.6,563.2 543.1,563.1 543.7,563.1 544.3,563.1 544.9,563.0 545.5,563.0 546.1,563.0 546.7,562.9 547.2,562.9 547.8,562.9 548.4,562.9 549.0,562.8 549.6,562.8 550.2,562.8 550.7,562.7 551.3,562.7 551.9,562.7 552.5,562.7 553.1,562.6 553.7,562.6 554.2,562.6 554.8,562.5 555.4,562.5 556.0,562.5 556.6,562.5 557.2,562.4 557.7,562.4 558.3,562.4 558.9,562.4 559.5,562.3 560.1,562.3 560.7,562.3 561.3,562.2 561.8,562.2 562.4,562.2 563.0,562.1 563.6,562.0 564.2,562.0 564.8,561.9 565.3,561.8 565.9,561.7 566.5,561.5 567.1,561.4 567.7,561.1 568.3,560.9 568.8,560.6 569.4,560.3 570.0,559.9 570.6,559.5 571.2,559.0 571.8,558.5 572.3,557.9 572.9,557.3 573.5,556.7 574.1,556.0 574.7,555.2 575.3,554.5 575.9,553.7 576.4,552.8 577.0,552.0 577.6,551.1 578.2,550.2 578.8,549.2 579.4,548.3 579.9,547.3 580.5,546.3 581.1,545.3 581.7,544.3 582.3,543.2 582.9,542.2 583.4,541.1 584.0,540.0 584.6,539.0 585.2,537.9 585.8,536.8 586.4,535.7 586.9,534.6 587.5,533.4 588.1,532.3 588.7,531.2 589.3,530.1 589.9,528.9 590.5,527.8 591.0,526.7 591.6,525.5 592.2,524.4 592.8,523.3 593.4,522.1 594.0,521.0 594.5,519.8 595.1,518.7 595.7,517.6 596.3,516.4 596.9,515.3 597.5,514.2 598.0,513.1 598.6,511.9 599.2,510.8 599.8,509.7 600.4,508.6 601.0,507.6 601.5,506.5 602.1,505.4 602.7,504.4 603.3,503.4 603.9,502.3 604.5,501.4 605.1,500.4 605.6,499.5 606.2,498.6 606.8,497.8 607.4,497.1 608.0,496.4 608.6,495.9 609.1,495.5 609.7,495.4 610.3,495.5 610.9,496.0 611.5,496.9 612.1,498.2 612.6,499.8 613.2,501.8 613.8,504.0 614.4,506.4 615.0,508.9 615.6,511.3 616.1,513.6 616.7,515.7 617.3,517.7 617.9,519.5 618.5,521.2 619.1,522.7 619.7,524.2 620.2,525.5 620.8,526.8 621.4,528.0 622.0,529.1 622.6,530.2 623.2,531.3 623.7,532.3 624.3,533.3 624.9,534.2 625.5,535.1 626.1,536.0 626.7,536.9 627.2,537.7 627.8,538.5 628.4,539.2 629.0,540.0 629.6,540.7 630.2,541.3 630.7,542.0 631.3,542.6 631.9,543.3 632.5,543.9 633.1,544.4 633.7,545.0 634.3,545.5 634.8,546.0 635.4,546.5 636.0,547.0 636.6,547.5 637.2,547.9 637.8,548.4 638.3,548.8 638.9,549.2 639.5,549.6 640.1,550.0 640.7,550.3 641.3,550.7 641.8,551.0 642.4,551.4 643.0,551.7 643.6,552.0 644.2,552.3 644.8,552.6 645.3,552.9 645.9,553.1 646.5,553.4 647.1,553.6 647.7,553.9 648.3,554.1 648.9,554.4 649.4,554.6 650.0,554.8 650.6,555.0 651.2,555.2 651.8,555.4 652.4,555.6 652.9,555.7 653.5,555.9 654.1,556.1 654.7,556.2 655.3,556.4 655.9,556.5 656.4,556.7 657.0,556.8 657.6,557.0 658.2,557.1 658.8,557.2 659.4,557.3 659.9,557.5 660.5,557.6 661.1,557.7 661.7,557.8 662.3,557.9 662.9,558.0 663.5,558.1 664.0,558.2 664.6,558.3 665.2,558.3 665.8,558.4 666.4,558.5 667.0,558.6 667.5,558.7 667.0,558.7 666.4,558.8 665.8,558.9 665.2,558.9 664.6,559.0 664.0,559.1 663.5,559.1 662.9,559.2 662.3,559.2 661.7,559.3 661.1,559.3 660.5,559.4 659.9,559.4 659.4,559.5 658.8,559.5 658.2,559.6 657.6,559.6 657.0,559.7 656.4,559.7 655.9,559.7 655.3,559.8 654.7,559.8 654.1,559.8 653.5,559.9 652.9,559.9 652.4,559.9 651.8,560.0 651.2,560.0 650.6,560.0 650.0,560.0 649.4,560.1 648.9,560.1 648.3,560.1 647.7,560.1 647.1,560.2 646.5,560.2 645.9,560.2 645.3,560.2 644.8,560.2 644.2,560.3 643.6,560.3 643.0,560.3 642.4,560.3 641.8,560.3 641.3,560.3 640.7,560.4 640.1,560.4 639.5,560.4 638.9,560.4 638.3,560.4 637.8,560.4 637.2,560.4 636.6,560.5 636.0,560.5 635.4,560.5 634.8,560.5 634.3,560.5 633.7,560.5 633.1,560.5 632.5,560.5 631.9,560.5 631.3,560.5 630.7,560.6 630.2,560.6 629.6,560.6 629.0,560.6 628.4,560.6 627.8,560.6 627.2,560.6 626.7,560.6 626.1,560.6 625.5,560.6 624.9,560.6 624.3,560.6 623.7,560.6 623.2,560.6 622.6,560.7 622.0,560.7 621.4,560.7 620.8,560.7 620.2,560.7 619.7,560.7 619.1,560.7 618.5,560.7 617.9,560.7 617.3,560.7 616.7,560.7 616.1,560.7 615.6,560.7 615.0,560.7 614.4,560.7 613.8,560.7 613.2,560.7 612.6,560.7 612.1,560.7 611.5,560.7 610.9,560.7 610.3,560.7 609.7,560.7 609.1,560.7 608.6,560.7 608.0,560.7 607.4,560.7 606.8,560.7 606.2,560.7 605.6,560.7 605.1,560.7 604.5,560.7 603.9,560.8 603.3,560.8 602.7,560.8 602.1,560.8 601.5,560.8 601.0,560.8 600.4,560.8 599.8,560.8 599.2,560.8 598.6,560.8 598.0,560.8 597.5,560.8 596.9,560.8 596.3,560.8 595.7,560.8 595.1,560.8 594.5,560.8 594.0,560.9 593.4,560.9 592.8,560.9 592.2,561.0 591.6,561.0 591.0,561.1 590.5,561.2 589.9,561.3 589.3,561.5 588.7,561.7 588.1,561.9 587.5,562.1 586.9,562.5 586.4,562.8 585.8,563.2 585.2,563.7 584.6,564.2 584.0,564.7 583.4,565.3 582.9,565.9 582.3,566.6 581.7,567.3 581.1,568.1 580.5,568.8 579.9,569.7 579.4,570.5 578.8,571.4 578.2,572.3 577.6,573.2 577.0,574.1 576.4,575.1 575.9,576.0 575.3,577.0 574.7,578.0 574.1,579.0 573.5,580.0 572.9,581.0 572.3,582.1 571.8,583.1 571.2,584.1 570.6,585.2 570.0,586.2 569.4,587.3 568.8,588.4 568.3,589.4 567.7,590.5 567.1,591.5 566.5,592.6 565.9,593.7 565.3,594.7 564.8,595.8 564.2,596.8 563.6,597.8 563.0,598.9 562.4,599.9 561.8,600.9 561.3,601.9 560.7,602.9 560.1,603.8 559.5,604.8 558.9,605.7 558.3,606.5 557.7,607.4 557.2,608.2 556.6,608.9 556.0,609.5 555.4,610.0 554.8,610.5 554.2,610.7 553.7,610.7 553.1,610.5 552.5,610.1 551.9,609.4 551.3,608.4 550.7,607.2 550.2,605.9 549.6,604.4 549.0,602.9 548.4,601.5 547.8,600.1 547.2,598.7 546.7,597.5 546.1,596.5 545.5,595.5 544.9,594.6 544.3,593.7 543.7,593.0 543.1,592.3 542.6,591.6 542.0,591.0 541.4,590.4 540.8,589.9 540.2,589.3 539.6,588.8 539.1,588.3 538.5,587.9 537.9,587.4 537.3,587.0 536.7,586.5 536.1,586.1 535.6,585.7 535.0,585.3 534.4,584.9 533.8,584.6 533.2,584.2 532.6,583.8 532.1,583.5 531.5,583.1 530.9,582.8 530.3,582.5 529.7,582.2 529.1,581.8 528.5,581.5 528.0,581.2 527.4,580.9 526.8,580.6 526.2,580.3 525.6,580.0 525.0,579.8 524.5,579.5 523.9,579.2 523.3,578.9 522.7,578.7 522.1,578.4 521.5,578.2 521.0,577.9 520.4,577.6 519.8,577.4 519.2,577.2 518.6,576.9 518.0,576.7 517.5,576.5 516.9,576.2 516.3,576.0 515.7,575.8 515.1,575.6 514.5,575.3 513.9,575.1 513.4,574.9 512.8,574.7 512.2,574.5 511.6,574.3 511.0,574.1 510.4,573.9 509.9,573.7 509.3,573.6 508.7,573.4 508.1,573.2 507.5,573.0 506.9,572.8 506.4,572.7 505.8,572.5 505.2,572.3 504.6,572.1 504.0,572.0 503.4,571.8 502.9,571.7 502.3,571.5 501.7,571.3 501.1,571.2 500.5,571.0 499.9,570.9 499.3,570.7 498.8,570.6 498.2,570.5 497.6,570.3 497.0,570.2 496.4,570.0 495.8,569.9 495.3,569.8 494.7,569.7 494.1,569.6 493.5,569.5 492.9,569.4 492.3,569.3" fill="none" stroke="#24aed2" stroke-width="2" stroke-linejoin="round"/>
<polyline points="492.3,579.3 492.9,579.2 493.5,579.1 494.1,579.1 494.7,579.0 495.3,578.9 495.8,578.8 496.4,578.7 497.0,578.6 497.6,578.5 498.2,578.4 498.8,578.3 499.3,578.2 499.9,578.1 500.5,578.0 501.1,577.9 501.7,577.8 502.3,577.7 502.9,577.6 503.4,577.5 504.0,577.4 504.6,577.4 505.2,577.3 505.8,577.2 506.4,577.1 506.9,577.0 507.5,576.9 508.1,576.8 508.7,576.7 509.3,576.6 509.9,576.6 510.4,576.5 511.0,576.4 511.6,576.3 512.2,576.2 512.8,576.1 513.4,576.1 513.9,576.0 514.5,575.9 515.1,575.8 515.7,575.7 516.3,575.6 516.9,575.6 517.5,575.5 518.0,575.4 518.6,575.3 519.2,575.2 519.8,575.2 520.4,575.1 521.0,575.0 521.5,574.9 522.1,574.9 522.7,574.8 523.3,574.7 523.9,574.6 524.5,574.6 525.0,574.5 525.6,574.4 526.2,574.3 526.8,574.3 527.4,574.2 528.0,574.1 528.5,574.0 529.1,574.0 529.7,573.9 530.3,573.8 530.9,573.8 531.5,573.7 532.1,573.6 532.6,573.6 533.2,573.5 533.8,573.4 534.4,573.4 535.0,573.3 535.6,573.2 536.1,573.2 536.7,573.1 537.3,573.0 537.9,573.0 538.5,572.9 539.1,572.8 539.6,572.8 540.2,572.7 540.8,572.6 541.4,572.6 542.0,572.5 542.6,572.4 543.1,572.4 543.7,572.3 544.3,572.3 544.9,572.2 545.5,572.1 546.1,572.1 546.7,572.0 547.2,572.0 547.8,571.9 548.4,571.8 549.0,571.8 549.6,571.7 550.2,571.7 550.7,571.6 551.3,571.5 551.9,571.5 552.5,571.4 553.1,571.4 553.7,571.3 554.2,571.2 554.8,571.2 555.4,571.1 556.0,571.1 556.6,571.0 557.2,570.9 557.7,570.9 558.3,570.8 558.9,570.7 559.5,570.6 560.1,570.5 560.7,570.4 561.3,570.3 561.8,570.2 562.4,570.0 563.0,569.8 563.6,569.6 564.2,569.3 564.8,569.0 565.3,568.7 565.9,568.3 566.5,567.9 567.1,567.4 567.7,566.9 568.3,566.4 568.8,565.8 569.4,565.1 570.0,564.4 570.6,563.7 571.2,562.9 571.8,562.1 572.3,561.3 572.9,560.4 573.5,559.5 574.1,558.6 574.7,557.7 575.3,556.7 575.9,555.7 576.4,554.7 577.0,553.7 577.6,552.7 578.2,551.6 578.8,550.6 579.4,549.5 579.9,548.4 580.5,547.3 581.1,546.2 581.7,545.1 582.3,543.9 582.9,542.8 583.4,541.7 584.0,540.5 584.6,539.4 585.2,538.2 585.8,537.1 586.4,535.9 586.9,534.7 587.5,533.6 588.1,532.4 588.7,531.2 589.3,530.0 589.9,528.8 590.5,527.6 591.0,526.4 591.6,525.2 592.2,524.0 592.8,522.8 593.4,521.6 594.0,520.4 594.5,519.2 595.1,518.1 595.7,516.9 596.3,515.7 596.9,514.5 597.5,513.3 598.0,512.1 598.6,510.9 599.2,509.7 599.8,508.5 600.4,507.3 601.0,506.1 601.5,504.9 602.1,503.7 602.7,502.6 603.3,501.4 603.9,500.2 604.5,499.1 605.1,497.9 605.6,496.8 606.2,495.6 606.8,494.5 607.4,493.4 608.0,492.3 608.6,491.2 609.1,490.1 609.7,489.1 610.3,488.1 610.9,487.1 611.5,486.1 612.1,485.1 612.6,484.2 613.2,483.4 613.8,482.6 614.4,481.9 615.0,481.4 615.6,481.0 616.1,480.9 616.7,481.0 617.3,481.5 617.9,482.4 618.5,483.6 619.1,485.3 619.7,487.3 620.2,489.6 620.8,492.1 621.4,494.6 622.0,497.1 622.6,499.4 623.2,501.6 623.7,503.6 624.3,505.4 624.9,507.1 625.5,508.6 626.1,510.0 626.7,511.4 627.2,512.6 627.8,513.8 628.4,514.9 629.0,516.0 629.6,517.0 630.2,518.1 630.7,519.0 631.3,520.0 631.9,520.9 632.5,521.8 633.1,522.6 633.7,523.5 634.3,524.3 634.8,525.1 635.4,525.8 636.0,526.6 636.6,527.3 637.2,528.1 637.8,528.8 638.3,529.5 638.9,530.1 639.5,530.8 640.1,531.4 640.7,532.1 641.3,532.7 641.8,533.3 642.4,533.9 643.0,534.5 643.6,535.0 644.2,535.6 644.8,536.1 645.3,536.6 645.9,537.2 646.5,537.7 647.1,538.2 647.7,538.6 648.3,539.1 648.9,539.6 649.4,540.0 650.0,540.5 650.6,540.9 651.2,541.3 651.8,541.8 652.4,542.2 652.9,542.6 653.5,542.9 654.1,543.3 654.7,543.7 655.3,544.1 655.9,544.4 656.4,544.8 657.0,545.1 657.6,545.5 658.2,545.8 658.8,546.1 659.4,546.4 659.9,546.7 660.5,547.0 661.1,547.3 661.7,547.6 662.3,547.9 662.9,548.2 663.5,548.4 664.0,548.7 664.6,549.0 665.2,549.2 665.8,549.5 666.4,549.7 667.0,549.9 667.5,550.2 667.0,550.4 666.4,550.6 665.8,550.8 665.2,551.1 664.6,551.3 664.0,551.5 663.5,551.7 662.9,551.9 662.3,552.1 661.7,552.2 661.1,552.4 660.5,552.6 659.9,552.8 659.4,552.9 658.8,553.1 658.2,553.3 657.6,553.4 657.0,553.6 656.4,553.8 655.9,553.9 655.3,554.0 654.7,554.2 654.1,554.3 653.5,554.5 652.9,554.6 652.4,554.7 651.8,554.9 651.2,555.0 650.6,555.1 650.0,555.2 649.4,555.4 648.9,555.5 648.3,555.6 647.7,555.7 647.1,555.8 646.5,555.9 645.9,556.0 645.3,556.1 644.8,556.2 644.2,556.3 643.6,556.4 643.0,556.5 642.4,556.6 641.8,556.7 641.3,556.8 640.7,556.9 640.1,557.0 639.5,557.0 638.9,557.1 638.3,557.2 637.8,557.3 637.2,557.3 636.6,557.4 636.0,557.5 635.4,557.6 634.8,557.6 634.3,557.7 633.7,557.8 633.1,557.8 632.5,557.9 631.9,558.0 631.3,558.0 630.7,558.1 630.2,558.1 629.6,558.2 629.0,558.2 628.4,558.3 627.8,558.4 627.2,558.4 626.7,558.5 626.1,558.5 625.5,558.6 624.9,558.6 624.3,558.7 623.7,558.7 623.2,558.7 622.6,558.8 622.0,558.8 621.4,558.9 620.8,558.9 620.2,559.0 619.7,559.0 619.1,559.0 618.5,559.1 617.9,559.1 617.3,559.1 616.7,559.2 616.1,559.2 615.6,559.2 615.0,559.3 614.4,559.3 613.8,559.3 613.2,559.4 612.6,559.4 612.1,559.4 611.5,559.5 610.9,559.5 610.3,559.5 609.7,559.5 609.1,559.6 608.6,559.6 608.0,559.6 607.4,559.7 606.8,559.7 606.2,559.7 605.6,559.7 605.1,559.7 604.5,559.8 603.9,559.8 603.3,559.8 602.7,559.8 602.1,559.9 601.5,559.9 601.0,559.9 600.4,559.9 599.8,559.9 599.2,560.0 598.6,560.0 598.0,560.0 597.5,560.0 596.9,560.0 596.3,560.1 595.7,560.1 595.1,560.1 594.5,560.2 594.0,560.2 593.4,560.3 592.8,560.3 592.2,560.4 591.6,560.5 591.0,560.6 590.5,560.7 589.9,560.9 589.3,561.1 588.7,561.3 588.1,561.6 587.5,561.9 586.9,562.3 586.4,562.7 585.8,563.1 585.2,563.6 584.6,564.2 584.0,564.8 583.4,565.4 582.9,566.1 582.3,566.8 581.7,567.6 581.1,568.4 580.5,569.2 579.9,570.0 579.4,570.9 578.8,571.8 578.2,572.7 577.6,573.7 577.0,574.6 576.4,575.6 575.9,576.6 575.3,577.6 574.7,578.6 574.1,579.7 573.5,580.7 572.9,581.7 572.3,582.8 571.8,583.9 571.2,584.9 570.6,586.0 570.0,587.1 569.4,588.2 568.8,589.3 568.3,590.4 567.7,591.5 567.1,592.6 566.5,593.6 565.9,594.7 565.3,595.8 564.8,596.9 564.2,598.0 563.6,599.1 563.0,600.2 562.4,601.3 561.8,602.4 561.3,603.4 560.7,604.5 560.1,605.6 559.5,606.6 558.9,607.6 558.3,608.7 557.7,609.7 557.2,610.6 556.6,611.6 556.0,612.5 555.4,613.4 554.8,614.3 554.2,615.1 553.7,615.9 553.1,616.5 552.5,617.1 551.9,617.5 551.3,617.8 550.7,617.9 550.2,617.7 549.6,617.2 549.0,616.5 548.4,615.5 547.8,614.3 547.2,612.8 546.7,611.2 546.1,609.6 545.5,608.0 544.9,606.5 544.3,605.0 543.7,603.7 543.1,602.5 542.6,601.5 542.0,600.5 541.4,599.6 540.8,598.9 540.2,598.1 539.6,597.5 539.1,596.8 538.5,596.2 537.9,595.7 537.3,595.2 536.7,594.7 536.1,594.2 535.6,593.7 535.0,593.3 534.4,592.9 533.8,592.5 533.2,592.1 532.6,591.7 532.1,591.4 531.5,591.0 530.9,590.7 530.3,590.4 529.7,590.1 529.1,589.8 528.5,589.5 528.0,589.2 527.4,589.0 526.8,588.7 526.2,588.4 525.6,588.2 525.0,587.9 524.5,587.7 523.9,587.5 523.3,587.3 522.7,587.0 522.1,586.8 521.5,586.6 521.0,586.4 520.4,586.2 519.8,586.0 519.2,585.8 518.6,585.6 518.0,585.4 517.5,585.3 516.9,585.1 516.3,584.9 515.7,584.7 515.1,584.6 514.5,584.4 513.9,584.2 513.4,584.1 512.8,583.9 512.2,583.8 511.6,583.6 511.0,583.5 510.4,583.3 509.9,583.2 509.3,583.0 508.7,582.9 508.1,582.7 507.5,582.6 506.9,582.5 506.4,582.3 505.8,582.2 505.2,582.1 504.6,581.9 504.0,581.8 503.4,581.7 502.9,581.5 502.3,581.4 501.7,581.3 501.1,581.2 500.5,581.1 499.9,580.9 499.3,580.8 498.8,580.7 498.2,580.6 497.6,580.5 497.0,580.3 496.4,580.2 495.8,580.1 495.3,580.0 494.7,579.9 494.1,579.8 493.5,579.7 492.9,579.7 492.3,579.6" fill="none" stroke="#d64ea0" stroke-width="2" stroke-linejoin="round"/>
<polyline points="492.3,584.4 492.9,584.3 493.5,584.3 494.1,584.2 494.7,584.1 495.3,584.0 495.8,583.9 496.4,583.8 497.0,583.7 497.6,583.6 498.2,583.4 498.8,583.3 499.3,583.2 499.9,583.1 500.5,583.0 501.1,582.9 501.7,582.8 502.3,582.7 502.9,582.6 503.4,582.5 504.0,582.4 504.6,582.3 505.2,582.2 505.8,582.1 506.4,582.1 506.9,582.0 507.5,581.9 508.1,581.8 508.7,581.7 509.3,581.6 509.9,581.5 510.4,581.4 511.0,581.3 511.6,581.2 512.2,581.2 512.8,581.1 513.4,581.0 513.9,580.9 514.5,580.8 515.1,580.7 515.7,580.7 516.3,580.6 516.9,580.5 517.5,580.4 518.0,580.3 518.6,580.3 519.2,580.2 519.8,580.1 520.4,580.0 521.0,579.9 521.5,579.9 522.1,579.8 522.7,579.7 523.3,579.6 523.9,579.6 524.5,579.5 525.0,579.4 525.6,579.3 526.2,579.3 526.8,579.2 527.4,579.1 528.0,579.0 528.5,579.0 529.1,578.9 529.7,578.8 530.3,578.8 530.9,578.7 531.5,578.6 532.1,578.5 532.6,578.5 533.2,578.4 533.8,578.3 534.4,578.3 535.0,578.2 535.6,578.1 536.1,578.1 536.7,578.0 537.3,577.9 537.9,577.9 538.5,577.8 539.1,577.7 539.6,577.7 540.2,577.6 540.8,577.5 541.4,577.5 542.0,577.4 542.6,577.3 543.1,577.3 543.7,577.2 544.3,577.2 544.9,577.1 545.5,577.0 546.1,577.0 546.7,576.9 547.2,576.8 547.8,576.8 548.4,576.7 549.0,576.7 549.6,576.6 550.2,576.5 550.7,576.5 551.3,576.4 551.9,576.4 552.5,576.3 553.1,576.2 553.7,576.2 554.2,576.1 554.8,576.0 555.4,576.0 556.0,575.9 556.6,575.8 557.2,575.7 557.7,575.6 558.3,575.5 558.9,575.4 559.5,575.2 560.1,575.1 560.7,574.9 561.3,574.6 561.8,574.4 562.4,574.1 563.0,573.8 563.6,573.4 564.2,573.0 564.8,572.5 565.3,572.0 565.9,571.4 566.5,570.8 567.1,570.2 567.7,569.5 568.3,568.8 568.8,568.0 569.4,567.2 570.0,566.4 570.6,565.5 571.2,564.6 571.8,563.7 572.3,562.7 572.9,561.8 573.5,560.8 574.1,559.8 574.7,558.7 575.3,557.7 575.9,556.7 576.4,555.6 577.0,554.5 577.6,553.4 578.2,552.3 578.8,551.2 579.4,550.1 579.9,548.9 580.5,547.8 581.1,546.7 581.7,545.5 582.3,544.3 582.9,543.2 583.4,542.0 584.0,540.8 584.6,539.6 585.2,538.5 585.8,537.3 586.4,536.1 586.9,534.9 587.5,533.7 588.1,532.5 588.7,531.3 589.3,530.1 589.9,528.8 590.5,527.6 591.0,526.4 591.6,525.2 592.2,524.0 592.8,522.7 593.4,521.5 594.0,520.3 594.5,519.1 595.1,517.9 595.7,516.6 596.3,515.4 596.9,514.2 597.5,513.0 598.0,511.7 598.6,510.5 599.2,509.3 599.8,508.1 600.4,506.8 601.0,505.6 601.5,504.4 602.1,503.2 602.7,502.0 603.3,500.8 603.9,499.6 604.5,498.4 605.1,497.2 605.6,496.0 606.2,494.8 606.8,493.6 607.4,492.4 608.0,491.3 608.6,490.1 609.1,488.9 609.7,487.8 610.3,486.6 610.9,485.5 611.5,484.4 612.1,483.3 612.6,482.2 613.2,481.1 613.8,480.1 614.4,479.1 615.0,478.1 615.6,477.1 616.1,476.2 616.7,475.3 617.3,474.5 617.9,473.8 618.5,473.2 619.1,472.8 619.7,472.6 620.2,472.7 620.8,473.1 621.4,473.9 622.0,475.1 622.6,476.7 623.2,478.7 623.7,481.0 624.3,483.4 624.9,486.0 625.5,488.5 626.1,490.9 626.7,493.1 627.2,495.2 627.8,497.0 628.4,498.7 629.0,500.3 629.6,501.7 630.2,503.0 630.7,504.3 631.3,505.4 631.9,506.6 632.5,507.6 633.1,508.6 633.7,509.6 634.3,510.6 634.8,511.5 635.4,512.4 636.0,513.2 636.6,514.1 637.2,514.9 637.8,515.7 638.3,516.4 638.9,517.2 639.5,517.9 640.1,518.6 640.7,519.4 641.3,520.0 641.8,520.7 642.4,521.4 643.0,522.0 643.6,522.7 644.2,523.3 644.8,523.9 645.3,524.5 645.9,525.1 646.5,525.7 647.1,526.3 647.7,526.8 648.3,527.4 648.9,527.9 649.4,528.5 650.0,529.0 650.6,529.5 651.2,530.0 651.8,530.5 652.4,531.0 652.9,531.5 653.5,532.0 654.1,532.4 654.7,532.9 655.3,533.3 655.9,533.8 656.4,534.2 657.0,534.7 657.6,535.1 658.2,535.5 658.8,535.9 659.4,536.3 659.9,536.7 660.5,537.1 661.1,537.5 661.7,537.9 662.3,538.2 662.9,538.6 663.5,539.0 664.0,539.3 664.6,539.7 665.2,540.0 665.8,540.3 666.4,540.7 667.0,541.0 667.5,541.3 667.0,541.6 666.4,541.9 665.8,542.2 665.2,542.5 664.6,542.8 664.0,543.1 663.5,543.4 662.9,543.7 662.3,544.0 661.7,544.3 661.1,544.5 660.5,544.8 659.9,545.0 659.4,545.3 658.8,545.5 658.2,545.8 657.6,546.0 657.0,546.3 656.4,546.5 655.9,546.7 655.3,547.0 654.7,547.2 654.1,547.4 653.5,547.6 652.9,547.8 652.4,548.1 651.8,548.3 651.2,548.5 650.6,548.7 650.0,548.9 649.4,549.1 648.9,549.2 648.3,549.4 647.7,549.6 647.1,549.8 646.5,550.0 645.9,550.2 645.3,550.3 644.8,550.5 644.2,550.7 643.6,550.8 643.0,551.0 642.4,551.1 641.8,551.3 641.3,551.5 640.7,551.6 640.1,551.8 639.5,551.9 638.9,552.0 638.3,552.2 637.8,552.3 637.2,552.5 636.6,552.6 636.0,552.7 635.4,552.9 634.8,553.0 634.3,553.1 633.7,553.2 633.1,553.4 632.5,553.5 631.9,553.6 631.3,553.7 630.7,553.8 630.2,553.9 629.6,554.1 629.0,554.2 628.4,554.3 627.8,554.4 627.2,554.5 626.7,554.6 626.1,554.7 625.5,554.8 624.9,554.9 624.3,555.0 623.7,555.1 623.2,555.2 622.6,555.3 622.0,555.3 621.4,555.4 620.8,555.5 620.2,555.6 619.7,555.7 619.1,555.8 618.5,555.9 617.9,555.9 617.3,556.0 616.7,556.1 616.1,556.2 615.6,556.2 615.0,556.3 614.4,556.4 613.8,556.5 613.2,556.5 612.6,556.6 612.1,556.7 611.5,556.7 610.9,556.8 610.3,556.9 609.7,556.9 609.1,557.0 608.6,557.1 608.0,557.1 607.4,557.2 606.8,557.2 606.2,557.3 605.6,557.3 605.1,557.4 604.5,557.5 603.9,557.5 603.3,557.6 602.7,557.6 602.1,557.7 601.5,557.7 601.0,557.8 600.4,557.8 599.8,557.9 599.2,557.9 598.6,558.0 598.0,558.0 597.5,558.1 596.9,558.1 596.3,558.2 595.7,558.3 595.1,558.3 594.5,558.4 594.0,558.5 593.4,558.6 592.8,558.7 592.2,558.9 591.6,559.0 591.0,559.2 590.5,559.4 589.9,559.7 589.3,560.0 588.7,560.3 588.1,560.7 587.5,561.1 586.9,561.6 586.4,562.1 585.8,562.6 585.2,563.2 584.6,563.9 584.0,564.6 583.4,565.3 582.9,566.1 582.3,566.9 581.7,567.7 581.1,568.6 580.5,569.4 579.9,570.4 579.4,571.3 578.8,572.2 578.2,573.2 577.6,574.2 577.0,575.2 576.4,576.2 575.9,577.3 575.3,578.3 574.7,579.4 574.1,580.4 573.5,581.5 572.9,582.6 572.3,583.7 571.8,584.8 571.2,585.9 570.6,587.0 570.0,588.1 569.4,589.2 568.8,590.4 568.3,591.5 567.7,592.6 567.1,593.8 566.5,594.9 565.9,596.0 565.3,597.2 564.8,598.3 564.2,599.5 563.6,600.6 563.0,601.7 562.4,602.9 561.8,604.0 561.3,605.2 560.7,606.3 560.1,607.4 559.5,608.6 558.9,609.7 558.3,610.8 557.7,611.9 557.2,613.0 556.6,614.1 556.0,615.2 555.4,616.3 554.8,617.4 554.2,618.4 553.7,619.5 553.1,620.5 552.5,621.5 551.9,622.5 551.3,623.5 550.7,624.4 550.2,625.3 549.6,626.1 549.0,626.9 548.4,627.6 547.8,628.2 547.2,628.6 546.7,628.9 546.1,628.9 545.5,628.7 544.9,628.2 544.3,627.3 543.7,626.1 543.1,624.7 542.6,623.0 542.0,621.1 541.4,619.2 540.8,617.3 540.2,615.5 539.6,613.8 539.1,612.2 538.5,610.8 537.9,609.6 537.3,608.5 536.7,607.4 536.1,606.5 535.6,605.6 535.0,604.8 534.4,604.1 533.8,603.4 533.2,602.7 532.6,602.1 532.1,601.5 531.5,600.9 530.9,600.4 530.3,599.9 529.7,599.4 529.1,598.9 528.5,598.4 528.0,598.0 527.4,597.6 526.8,597.2 526.2,596.8 525.6,596.4 525.0,596.0 524.5,595.7 523.9,595.3 523.3,595.0 522.7,594.7 522.1,594.4 521.5,594.1 521.0,593.8 520.4,593.5 519.8,593.2 519.2,592.9 518.6,592.7 518.0,592.4 517.5,592.2 516.9,591.9 516.3,591.7 515.7,591.4 515.1,591.2 514.5,591.0 513.9,590.8 513.4,590.6 512.8,590.3 512.2,590.1 511.6,589.9 511.0,589.7 510.4,589.5 509.9,589.4 509.3,589.2 508.7,589.0 508.1,588.8 507.5,588.6 506.9,588.5 506.4,588.3 505.8,588.1 505.2,588.0 504.6,587.8 504.0,587.6 503.4,587.5 502.9,587.3 502.3,587.2 501.7,587.0 501.1,586.9 500.5,586.7 499.9,586.6 499.3,586.5 498.8,586.3 498.2,586.2 497.6,586.0 497.0,585.9 496.4,585.8 495.8,585.7 495.3,585.5 494.7,585.4 494.1,585.3 493.5,585.2 492.9,585.1 492.3,585.1" fill="none" stroke="#f2ea30" stroke-width="2" stroke-linejoin="round"/>
<text x="698.50" y="458.30" font-size="19" fill="#111" text-anchor="start" font-weight="bold" >e</text>
<path d="M753.2,454.38 V643.8 H943.6" stroke="#4a4a4a" stroke-width="1.3" fill="none"/>
<path d="M748.2,643.82 H753.2 M748.2,620.14 H753.2 M748.2,596.46 H753.2 M748.2,572.78 H753.2 M748.2,549.10 H753.2 M748.2,525.42 H753.2 M748.2,501.74 H753.2 M748.2,478.06 H753.2 M748.2,454.38 H753.2 M750.2,631.98 H753.2 M750.2,608.30 H753.2 M750.2,584.62 H753.2 M750.2,560.94 H753.2 M750.2,537.26 H753.2 M750.2,513.58 H753.2 M750.2,489.90 H753.2 M750.2,466.22 H753.2 M772.50,643.8 V649.8 M810.50,643.8 V649.8 M848.50,643.8 V649.8 M886.50,643.8 V649.8 M924.50,643.8 V649.8 M791.50,643.8 V646.8 M829.50,643.8 V646.8 M867.50,643.8 V646.8 M905.50,643.8 V646.8 M943.50,643.8 V646.8" stroke="#4a4a4a" stroke-width="1.1" fill="none"/>
<text x="744.40" y="646.52" font-size="13" fill="#262626" text-anchor="end" >−0.4</text>
<text x="744.40" y="622.84" font-size="13" fill="#262626" text-anchor="end" >−0.3</text>
<text x="744.40" y="599.16" font-size="13" fill="#262626" text-anchor="end" >−0.2</text>
<text x="744.40" y="575.48" font-size="13" fill="#262626" text-anchor="end" >−0.1</text>
<text x="744.40" y="551.80" font-size="13" fill="#262626" text-anchor="end" >0.0</text>
<text x="744.40" y="528.12" font-size="13" fill="#262626" text-anchor="end" >0.1</text>
<text x="744.40" y="504.44" font-size="13" fill="#262626" text-anchor="end" >0.2</text>
<text x="744.40" y="480.76" font-size="13" fill="#262626" text-anchor="end" >0.3</text>
<text x="744.40" y="457.08" font-size="13" fill="#262626" text-anchor="end" >0.4</text>
<text x="772.50" y="662.50" font-size="13" fill="#262626" text-anchor="middle" >0.1</text>
<text x="810.50" y="662.50" font-size="13" fill="#262626" text-anchor="middle" >0.2</text>
<text x="848.50" y="662.50" font-size="13" fill="#262626" text-anchor="middle" >0.3</text>
<text x="886.50" y="662.50" font-size="13" fill="#262626" text-anchor="middle" >0.4</text>
<text x="924.50" y="662.50" font-size="13" fill="#262626" text-anchor="middle" >0.5</text>
<text x="709.00" y="546.00" font-size="13.6" fill="#262626" text-anchor="middle" transform="rotate(-90 709 546)">Peak current (mA)</text>
<text x="801" y="682" font-size="14" font-family="Liberation Serif" font-style="italic" fill="#333">υ</text>
<g fill="#262626" ><text x="808.50" y="677.65" font-size="9.52">1/2</text><text x="821.73" y="682.00" font-size="13.6"> (mV</text><text x="850.44" y="677.65" font-size="9.52">1/2</text><text x="863.68" y="682.00" font-size="13.6"> s</text><text x="874.25" y="677.65" font-size="9.52">−1/2</text><text x="893.05" y="682.00" font-size="13.6">)</text></g>
<text x="774.70" y="472.90" font-size="13.6" fill="#d04a9a" text-anchor="start" >Oxidation scan</text>
<text x="772.40" y="632.30" font-size="13.6" fill="#3a4ea8" text-anchor="start" >Reduction scan</text>
<line x1="772.8" y1="537.9" x2="924.3" y2="478.8" stroke="#d24a9a" stroke-width="2" stroke-dasharray="3.6 2.8"/>
<line x1="772.8" y1="560.5" x2="924.3" y2="602.0" stroke="#2c3f9c" stroke-width="2" stroke-dasharray="3.6 2.8"/>
<circle cx="772.8" cy="538.6" r="4.8" fill="url(#gPink)"/>
<circle cx="788.1" cy="531.9" r="4.8" fill="url(#gPink)"/>
<circle cx="819.6" cy="522.1" r="4.8" fill="url(#gPink)"/>
<circle cx="841.9" cy="508.9" r="4.8" fill="url(#gPink)"/>
<circle cx="865.4" cy="498.9" r="4.8" fill="url(#gPink)"/>
<circle cx="895.3" cy="489.1" r="4.8" fill="url(#gPink)"/>
<circle cx="924.3" cy="481.5" r="4.8" fill="url(#gPink)"/>
<circle cx="772.8" cy="559.0" r="4.8" fill="url(#gBlue)"/>
<circle cx="788.1" cy="564.5" r="4.8" fill="url(#gBlue)"/>
<circle cx="819.6" cy="572.8" r="4.8" fill="url(#gBlue)"/>
<circle cx="841.9" cy="582.0" r="4.8" fill="url(#gBlue)"/>
<circle cx="865.4" cy="587.4" r="4.8" fill="url(#gBlue)"/>
<circle cx="895.3" cy="593.6" r="4.8" fill="url(#gBlue)"/>
<circle cx="924.3" cy="600.3" r="4.8" fill="url(#gBlue)"/></svg></body></html>
